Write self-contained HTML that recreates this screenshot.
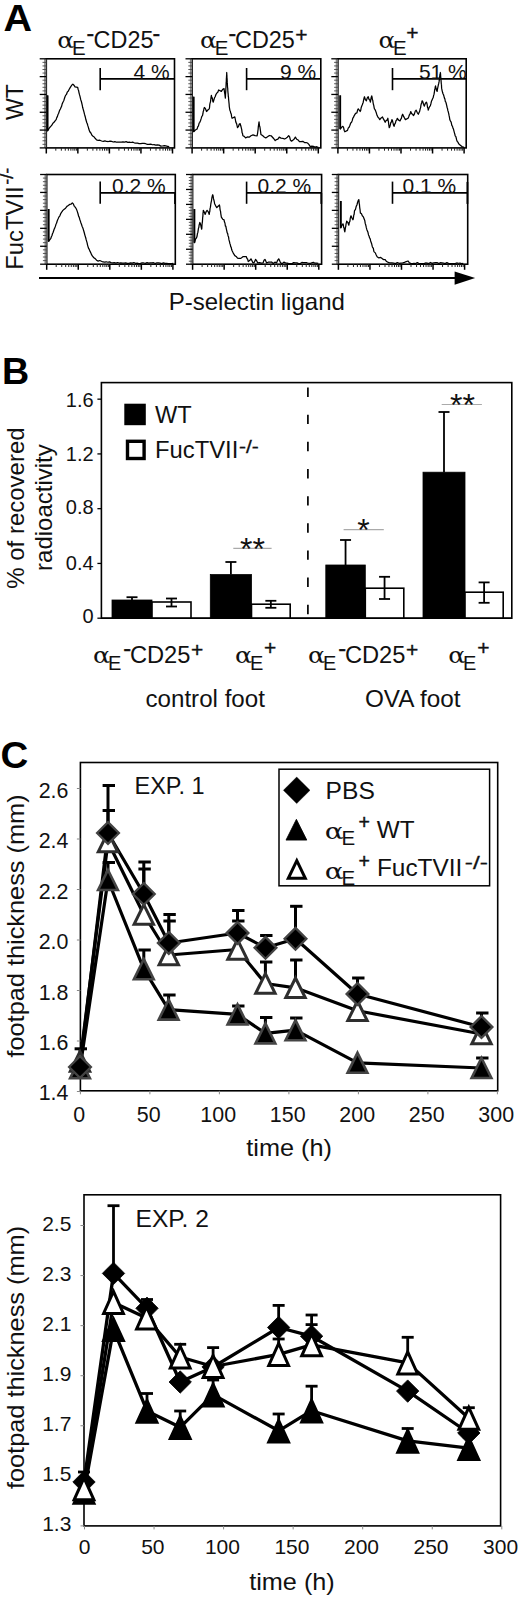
<!DOCTYPE html>
<html lang="en">
<head>
<meta charset="utf-8">
<title>Figure: P-selectin ligand, radioactivity recovery and footpad thickness</title>
<style>
html,body{margin:0;padding:0;background:#fff;}
body{width:520px;height:1597px;overflow:hidden;}
svg{display:block;font-family:"Liberation Sans", "DejaVu Sans", sans-serif;}
text{white-space:pre;}
</style>
</head>
<body>
<svg width="520" height="1597" viewBox="0 0 520 1597">
<rect x="0" y="0" width="520" height="1597" fill="#fff"/>
<g id="panelA">
<text x="3.4" y="30.6" font-size="36.5" text-anchor="start" font-weight="bold" fill="#000" textLength="28.6" lengthAdjust="spacingAndGlyphs">A</text>
<rect x="46.3" y="58.8" width="128.2" height="89.1" fill="none" stroke="#000" stroke-width="1.6"/>
<rect x="44.1" y="58.8" width="2.2" height="89.1" fill="#8a8a8a"/>
<line x1="39.7" y1="58.8" x2="46.3" y2="58.8" stroke="#000" stroke-width="1.3" />
<line x1="42.5" y1="62.36" x2="46.3" y2="62.36" stroke="#444" stroke-width="0.9" />
<line x1="42.5" y1="65.93" x2="46.3" y2="65.93" stroke="#444" stroke-width="0.9" />
<line x1="42.5" y1="69.49" x2="46.3" y2="69.49" stroke="#444" stroke-width="0.9" />
<line x1="42.5" y1="73.06" x2="46.3" y2="73.06" stroke="#444" stroke-width="0.9" />
<line x1="39.7" y1="76.62" x2="46.3" y2="76.62" stroke="#000" stroke-width="1.3" />
<line x1="42.5" y1="80.18" x2="46.3" y2="80.18" stroke="#444" stroke-width="0.9" />
<line x1="42.5" y1="83.75" x2="46.3" y2="83.75" stroke="#444" stroke-width="0.9" />
<line x1="42.5" y1="87.31" x2="46.3" y2="87.31" stroke="#444" stroke-width="0.9" />
<line x1="42.5" y1="90.88" x2="46.3" y2="90.88" stroke="#444" stroke-width="0.9" />
<line x1="39.7" y1="94.44" x2="46.3" y2="94.44" stroke="#000" stroke-width="1.3" />
<line x1="42.5" y1="98" x2="46.3" y2="98" stroke="#444" stroke-width="0.9" />
<line x1="42.5" y1="101.57" x2="46.3" y2="101.57" stroke="#444" stroke-width="0.9" />
<line x1="42.5" y1="105.13" x2="46.3" y2="105.13" stroke="#444" stroke-width="0.9" />
<line x1="42.5" y1="108.7" x2="46.3" y2="108.7" stroke="#444" stroke-width="0.9" />
<line x1="39.7" y1="112.26" x2="46.3" y2="112.26" stroke="#000" stroke-width="1.3" />
<line x1="42.5" y1="115.82" x2="46.3" y2="115.82" stroke="#444" stroke-width="0.9" />
<line x1="42.5" y1="119.39" x2="46.3" y2="119.39" stroke="#444" stroke-width="0.9" />
<line x1="42.5" y1="122.95" x2="46.3" y2="122.95" stroke="#444" stroke-width="0.9" />
<line x1="42.5" y1="126.52" x2="46.3" y2="126.52" stroke="#444" stroke-width="0.9" />
<line x1="39.7" y1="130.08" x2="46.3" y2="130.08" stroke="#000" stroke-width="1.3" />
<line x1="42.5" y1="133.64" x2="46.3" y2="133.64" stroke="#444" stroke-width="0.9" />
<line x1="42.5" y1="137.21" x2="46.3" y2="137.21" stroke="#444" stroke-width="0.9" />
<line x1="42.5" y1="140.77" x2="46.3" y2="140.77" stroke="#444" stroke-width="0.9" />
<line x1="42.5" y1="144.34" x2="46.3" y2="144.34" stroke="#444" stroke-width="0.9" />
<line x1="39.7" y1="147.9" x2="46.3" y2="147.9" stroke="#000" stroke-width="1.3" />
<line x1="46.3" y1="147.9" x2="46.3" y2="153.5" stroke="#000" stroke-width="1.5" />
<line x1="55.8" y1="147.9" x2="55.8" y2="150.7" stroke="#222" stroke-width="1.0" />
<line x1="61.35" y1="147.9" x2="61.35" y2="150.7" stroke="#222" stroke-width="1.0" />
<line x1="65.29" y1="147.9" x2="65.29" y2="150.7" stroke="#222" stroke-width="1.0" />
<line x1="68.35" y1="147.9" x2="68.35" y2="150.7" stroke="#222" stroke-width="1.0" />
<line x1="70.85" y1="147.9" x2="70.85" y2="150.7" stroke="#222" stroke-width="1.0" />
<line x1="72.96" y1="147.9" x2="72.96" y2="150.7" stroke="#222" stroke-width="1.0" />
<line x1="74.79" y1="147.9" x2="74.79" y2="150.7" stroke="#222" stroke-width="1.0" />
<line x1="76.41" y1="147.9" x2="76.41" y2="150.7" stroke="#222" stroke-width="1.0" />
<line x1="77.85" y1="147.9" x2="77.85" y2="153.5" stroke="#000" stroke-width="1.5" />
<line x1="87.35" y1="147.9" x2="87.35" y2="150.7" stroke="#222" stroke-width="1.0" />
<line x1="92.9" y1="147.9" x2="92.9" y2="150.7" stroke="#222" stroke-width="1.0" />
<line x1="96.84" y1="147.9" x2="96.84" y2="150.7" stroke="#222" stroke-width="1.0" />
<line x1="99.9" y1="147.9" x2="99.9" y2="150.7" stroke="#222" stroke-width="1.0" />
<line x1="102.4" y1="147.9" x2="102.4" y2="150.7" stroke="#222" stroke-width="1.0" />
<line x1="104.51" y1="147.9" x2="104.51" y2="150.7" stroke="#222" stroke-width="1.0" />
<line x1="106.34" y1="147.9" x2="106.34" y2="150.7" stroke="#222" stroke-width="1.0" />
<line x1="107.96" y1="147.9" x2="107.96" y2="150.7" stroke="#222" stroke-width="1.0" />
<line x1="109.4" y1="147.9" x2="109.4" y2="153.5" stroke="#000" stroke-width="1.5" />
<line x1="118.9" y1="147.9" x2="118.9" y2="150.7" stroke="#222" stroke-width="1.0" />
<line x1="124.45" y1="147.9" x2="124.45" y2="150.7" stroke="#222" stroke-width="1.0" />
<line x1="128.39" y1="147.9" x2="128.39" y2="150.7" stroke="#222" stroke-width="1.0" />
<line x1="131.45" y1="147.9" x2="131.45" y2="150.7" stroke="#222" stroke-width="1.0" />
<line x1="133.95" y1="147.9" x2="133.95" y2="150.7" stroke="#222" stroke-width="1.0" />
<line x1="136.06" y1="147.9" x2="136.06" y2="150.7" stroke="#222" stroke-width="1.0" />
<line x1="137.89" y1="147.9" x2="137.89" y2="150.7" stroke="#222" stroke-width="1.0" />
<line x1="139.51" y1="147.9" x2="139.51" y2="150.7" stroke="#222" stroke-width="1.0" />
<line x1="140.95" y1="147.9" x2="140.95" y2="153.5" stroke="#000" stroke-width="1.5" />
<line x1="150.45" y1="147.9" x2="150.45" y2="150.7" stroke="#222" stroke-width="1.0" />
<line x1="156" y1="147.9" x2="156" y2="150.7" stroke="#222" stroke-width="1.0" />
<line x1="159.94" y1="147.9" x2="159.94" y2="150.7" stroke="#222" stroke-width="1.0" />
<line x1="163" y1="147.9" x2="163" y2="150.7" stroke="#222" stroke-width="1.0" />
<line x1="165.5" y1="147.9" x2="165.5" y2="150.7" stroke="#222" stroke-width="1.0" />
<line x1="167.61" y1="147.9" x2="167.61" y2="150.7" stroke="#222" stroke-width="1.0" />
<line x1="169.44" y1="147.9" x2="169.44" y2="150.7" stroke="#222" stroke-width="1.0" />
<line x1="171.06" y1="147.9" x2="171.06" y2="150.7" stroke="#222" stroke-width="1.0" />
<line x1="172.5" y1="147.9" x2="172.5" y2="153.5" stroke="#000" stroke-width="1.5" />
<polyline points="47.54,95.38 47.54,130.92 48.62,129.2 49.69,127.49 50.77,126.35 51.85,125.17 52.92,123.18 54,122.35 55.08,120.81 56.15,119.62 56.76,117.61 57.37,116.59 57.97,114.56 58.58,113.48 59.18,111.57 59.79,110.08 60.39,108.93 61,107.5 61.57,106.35 62.14,104.06 62.72,102.65 63.29,101.58 63.86,100.42 64.43,98.5 65,96.79 65.58,95.38 66.45,94.43 67.33,91.92 68.2,91.34 69.08,89.46 70.02,87.88 70.96,86.38 71.9,85 72.85,84.08 73.92,85.21 75,86.77 77.69,87.31 78.14,89.45 78.59,90.55 79.04,92.78 79.49,94.64 79.94,96.14 80.38,98.08 80.83,99.92 81.28,101.19 81.73,102.98 82.18,104.93 82.63,107.25 83.08,108.85 83.54,110.5 84,112.1 84.46,114.13 84.92,115.72 85.38,117.28 85.85,119.55 86.31,120.96 86.81,122.72 87.31,123.76 87.81,125.66 88.31,127.14 88.81,129.07 89.31,130.44 89.81,131.73 90.88,133.02 91.96,135.31 93.04,136.31 94.21,137.05 95.37,138.55 96.54,139.81 98.22,140.49 99.9,140.23 101.59,141.01 103.27,141.42 104.95,140.85 106.63,141.47 108.32,141.51 110,141.15 111.62,141.45 113.23,142 114.85,141.6 116.46,142.23 118.08,142.23 119.69,142.23 121.31,142.1 122.92,141.86 124.54,142.17 126.15,141.69 127.77,142.4 129.38,142.09 131,142.52 132.62,142.07 134.23,142.77 135.85,143.1 137.46,143.15 139.08,143.63 140.69,143.55 142.31,143.31 143.99,143.34 145.67,143.72 147.36,144.3 149.04,144.38 150.72,144.06 152.4,144.75 154.09,144.63 155.77,145.19 157.45,144.97 159.13,145.11 160.82,146.09 162.5,146 164.18,145.73 165.87,145.99 167.55,146.28 169.23,146.54" fill="none" stroke="#000" stroke-width="1.25" stroke-linejoin="round" />
<line x1="47.54" y1="95.38" x2="47.54" y2="130.92" stroke="#000" stroke-width="1.8" />
<line x1="100.2" y1="68" x2="100.2" y2="90.2" stroke="#000" stroke-width="1.6" />
<line x1="100.2" y1="78.9" x2="174.5" y2="78.9" stroke="#000" stroke-width="1.6" />
<text x="169.8" y="79.2" font-size="21" text-anchor="end" font-weight="normal" fill="#111" >4 %</text>
<rect x="192.1" y="58.8" width="128.7" height="89.1" fill="none" stroke="#000" stroke-width="1.6"/>
<rect x="189.9" y="58.8" width="2.2" height="89.1" fill="#8a8a8a"/>
<line x1="185.5" y1="58.8" x2="192.1" y2="58.8" stroke="#000" stroke-width="1.3" />
<line x1="188.3" y1="62.36" x2="192.1" y2="62.36" stroke="#444" stroke-width="0.9" />
<line x1="188.3" y1="65.93" x2="192.1" y2="65.93" stroke="#444" stroke-width="0.9" />
<line x1="188.3" y1="69.49" x2="192.1" y2="69.49" stroke="#444" stroke-width="0.9" />
<line x1="188.3" y1="73.06" x2="192.1" y2="73.06" stroke="#444" stroke-width="0.9" />
<line x1="185.5" y1="76.62" x2="192.1" y2="76.62" stroke="#000" stroke-width="1.3" />
<line x1="188.3" y1="80.18" x2="192.1" y2="80.18" stroke="#444" stroke-width="0.9" />
<line x1="188.3" y1="83.75" x2="192.1" y2="83.75" stroke="#444" stroke-width="0.9" />
<line x1="188.3" y1="87.31" x2="192.1" y2="87.31" stroke="#444" stroke-width="0.9" />
<line x1="188.3" y1="90.88" x2="192.1" y2="90.88" stroke="#444" stroke-width="0.9" />
<line x1="185.5" y1="94.44" x2="192.1" y2="94.44" stroke="#000" stroke-width="1.3" />
<line x1="188.3" y1="98" x2="192.1" y2="98" stroke="#444" stroke-width="0.9" />
<line x1="188.3" y1="101.57" x2="192.1" y2="101.57" stroke="#444" stroke-width="0.9" />
<line x1="188.3" y1="105.13" x2="192.1" y2="105.13" stroke="#444" stroke-width="0.9" />
<line x1="188.3" y1="108.7" x2="192.1" y2="108.7" stroke="#444" stroke-width="0.9" />
<line x1="185.5" y1="112.26" x2="192.1" y2="112.26" stroke="#000" stroke-width="1.3" />
<line x1="188.3" y1="115.82" x2="192.1" y2="115.82" stroke="#444" stroke-width="0.9" />
<line x1="188.3" y1="119.39" x2="192.1" y2="119.39" stroke="#444" stroke-width="0.9" />
<line x1="188.3" y1="122.95" x2="192.1" y2="122.95" stroke="#444" stroke-width="0.9" />
<line x1="188.3" y1="126.52" x2="192.1" y2="126.52" stroke="#444" stroke-width="0.9" />
<line x1="185.5" y1="130.08" x2="192.1" y2="130.08" stroke="#000" stroke-width="1.3" />
<line x1="188.3" y1="133.64" x2="192.1" y2="133.64" stroke="#444" stroke-width="0.9" />
<line x1="188.3" y1="137.21" x2="192.1" y2="137.21" stroke="#444" stroke-width="0.9" />
<line x1="188.3" y1="140.77" x2="192.1" y2="140.77" stroke="#444" stroke-width="0.9" />
<line x1="188.3" y1="144.34" x2="192.1" y2="144.34" stroke="#444" stroke-width="0.9" />
<line x1="185.5" y1="147.9" x2="192.1" y2="147.9" stroke="#000" stroke-width="1.3" />
<line x1="192.1" y1="147.9" x2="192.1" y2="153.5" stroke="#000" stroke-width="1.5" />
<line x1="201.6" y1="147.9" x2="201.6" y2="150.7" stroke="#222" stroke-width="1.0" />
<line x1="207.15" y1="147.9" x2="207.15" y2="150.7" stroke="#222" stroke-width="1.0" />
<line x1="211.09" y1="147.9" x2="211.09" y2="150.7" stroke="#222" stroke-width="1.0" />
<line x1="214.15" y1="147.9" x2="214.15" y2="150.7" stroke="#222" stroke-width="1.0" />
<line x1="216.65" y1="147.9" x2="216.65" y2="150.7" stroke="#222" stroke-width="1.0" />
<line x1="218.76" y1="147.9" x2="218.76" y2="150.7" stroke="#222" stroke-width="1.0" />
<line x1="220.59" y1="147.9" x2="220.59" y2="150.7" stroke="#222" stroke-width="1.0" />
<line x1="222.21" y1="147.9" x2="222.21" y2="150.7" stroke="#222" stroke-width="1.0" />
<line x1="223.65" y1="147.9" x2="223.65" y2="153.5" stroke="#000" stroke-width="1.5" />
<line x1="233.15" y1="147.9" x2="233.15" y2="150.7" stroke="#222" stroke-width="1.0" />
<line x1="238.7" y1="147.9" x2="238.7" y2="150.7" stroke="#222" stroke-width="1.0" />
<line x1="242.64" y1="147.9" x2="242.64" y2="150.7" stroke="#222" stroke-width="1.0" />
<line x1="245.7" y1="147.9" x2="245.7" y2="150.7" stroke="#222" stroke-width="1.0" />
<line x1="248.2" y1="147.9" x2="248.2" y2="150.7" stroke="#222" stroke-width="1.0" />
<line x1="250.31" y1="147.9" x2="250.31" y2="150.7" stroke="#222" stroke-width="1.0" />
<line x1="252.14" y1="147.9" x2="252.14" y2="150.7" stroke="#222" stroke-width="1.0" />
<line x1="253.76" y1="147.9" x2="253.76" y2="150.7" stroke="#222" stroke-width="1.0" />
<line x1="255.2" y1="147.9" x2="255.2" y2="153.5" stroke="#000" stroke-width="1.5" />
<line x1="264.7" y1="147.9" x2="264.7" y2="150.7" stroke="#222" stroke-width="1.0" />
<line x1="270.25" y1="147.9" x2="270.25" y2="150.7" stroke="#222" stroke-width="1.0" />
<line x1="274.19" y1="147.9" x2="274.19" y2="150.7" stroke="#222" stroke-width="1.0" />
<line x1="277.25" y1="147.9" x2="277.25" y2="150.7" stroke="#222" stroke-width="1.0" />
<line x1="279.75" y1="147.9" x2="279.75" y2="150.7" stroke="#222" stroke-width="1.0" />
<line x1="281.86" y1="147.9" x2="281.86" y2="150.7" stroke="#222" stroke-width="1.0" />
<line x1="283.69" y1="147.9" x2="283.69" y2="150.7" stroke="#222" stroke-width="1.0" />
<line x1="285.31" y1="147.9" x2="285.31" y2="150.7" stroke="#222" stroke-width="1.0" />
<line x1="286.75" y1="147.9" x2="286.75" y2="153.5" stroke="#000" stroke-width="1.5" />
<line x1="296.25" y1="147.9" x2="296.25" y2="150.7" stroke="#222" stroke-width="1.0" />
<line x1="301.8" y1="147.9" x2="301.8" y2="150.7" stroke="#222" stroke-width="1.0" />
<line x1="305.74" y1="147.9" x2="305.74" y2="150.7" stroke="#222" stroke-width="1.0" />
<line x1="308.8" y1="147.9" x2="308.8" y2="150.7" stroke="#222" stroke-width="1.0" />
<line x1="311.3" y1="147.9" x2="311.3" y2="150.7" stroke="#222" stroke-width="1.0" />
<line x1="313.41" y1="147.9" x2="313.41" y2="150.7" stroke="#222" stroke-width="1.0" />
<line x1="315.24" y1="147.9" x2="315.24" y2="150.7" stroke="#222" stroke-width="1.0" />
<line x1="316.86" y1="147.9" x2="316.86" y2="150.7" stroke="#222" stroke-width="1.0" />
<line x1="318.3" y1="147.9" x2="318.3" y2="153.5" stroke="#000" stroke-width="1.5" />
<polyline points="193.62,96.73 193.62,131.73 195.37,130.03 197.12,129.04 197.79,126.66 198.46,125.97 199.13,123.14 199.81,122.31 200.48,120.7 201.15,118.67 201.83,116.38 202.5,115.58 202.88,113.98 203.25,111.42 203.63,110.6 204.01,108.26 204.38,107.5 205.46,108.7 206.54,111.54 207.88,110.04 209.23,108.85 209.5,107.82 209.77,104.73 210.04,103.24 210.31,102.37 210.58,101.33 210.85,98.9 211.12,96.86 211.38,95.38 211.86,98.02 212.33,97.84 212.8,101.15 213.27,102.12 213.9,99.9 214.53,97.81 215.15,96.73 216.03,94.28 216.9,92.98 217.78,92.31 218.65,90 221.35,91.35 222.69,89.36 224.04,88.65 224.31,90.7 224.58,92.7 224.85,94.05 225.12,96.29 225.38,98.08 225.47,95.6 225.55,94 225.64,92.69 225.72,92.04 225.81,89.94 225.89,88.11 225.97,87.06 226.06,85.19 226.14,83.29 226.23,82.68 226.31,80.89 226.39,78.38 226.48,77.44 226.56,75.75 226.65,74.85 226.73,72.5 226.82,74.6 226.91,75.37 227,78.4 227.09,78.32 227.18,80.56 227.27,82.89 227.36,83.32 227.45,85.64 227.54,87.31 227.7,88.07 227.85,91.01 228.01,92.88 228.17,94.18 228.32,96.47 228.48,97.03 228.64,99.48 228.79,100.96 228.95,102.61 229.11,104.05 229.27,106.5 229.42,107.5 229.87,110.18 230.32,111.04 230.77,113.21 231.22,113.8 231.67,116.88 232.12,118.27 234.81,116.92 235.26,119.01 235.71,121.5 236.15,122.95 236.6,123.67 237.05,125.67 237.5,127.69 238.4,126.68 239.29,124.05 240.19,123.65 240.58,125.31 240.96,126.45 241.35,128.08 241.73,129.69 242.12,132.84 242.5,133.3 242.88,135.77 244.23,136.34 245.58,137.92 247.37,136.99 249.17,137.23 250.96,135.77 253.03,134.93 255.09,135.67 257.15,135.77 257.39,134.12 257.62,133.04 257.86,131.16 258.1,129.5 258.33,126.58 258.57,125.1 258.8,123.24 259.04,121.77 259.31,124.35 259.58,126.3 259.85,126.49 260.12,128.35 260.38,130.27 260.65,132.08 260.92,134.42 262.54,135.56 264.15,136.93 265.77,137.92 267.56,136.73 269.36,135.5 271.15,135.77 272.5,137.22 273.85,138.74 275.19,140.62 276.54,139.58 277.88,139.19 279.23,137.12 281.03,138.12 282.82,138.4 284.62,139 285.96,138.16 287.31,137.2 288.65,135.77 289.55,136.67 290.45,140.16 291.35,141.15 292.69,140.37 294.04,139.21 295.38,137.12 296.73,139.24 298.08,139.95 299.42,141.69 301.11,141.69 302.79,141.3 304.47,142.57 306.15,142.5 307.5,142.97 308.85,144.33 310.19,146.54 311.81,146.23 313.42,146.4 315.04,147.03 316.65,146.72 318.27,147.3" fill="none" stroke="#000" stroke-width="1.25" stroke-linejoin="round" />
<line x1="193.62" y1="96.73" x2="193.62" y2="131.73" stroke="#000" stroke-width="1.8" />
<line x1="246.6" y1="68" x2="246.6" y2="90.2" stroke="#000" stroke-width="1.6" />
<line x1="246.6" y1="78.9" x2="320.8" y2="78.9" stroke="#000" stroke-width="1.6" />
<text x="316.3" y="79.2" font-size="21" text-anchor="end" font-weight="normal" fill="#111" >9 %</text>
<rect x="337.9" y="58.8" width="128.3" height="89.1" fill="none" stroke="#000" stroke-width="1.6"/>
<rect x="335.7" y="58.8" width="2.2" height="89.1" fill="#8a8a8a"/>
<line x1="331.3" y1="58.8" x2="337.9" y2="58.8" stroke="#000" stroke-width="1.3" />
<line x1="334.1" y1="62.36" x2="337.9" y2="62.36" stroke="#444" stroke-width="0.9" />
<line x1="334.1" y1="65.93" x2="337.9" y2="65.93" stroke="#444" stroke-width="0.9" />
<line x1="334.1" y1="69.49" x2="337.9" y2="69.49" stroke="#444" stroke-width="0.9" />
<line x1="334.1" y1="73.06" x2="337.9" y2="73.06" stroke="#444" stroke-width="0.9" />
<line x1="331.3" y1="76.62" x2="337.9" y2="76.62" stroke="#000" stroke-width="1.3" />
<line x1="334.1" y1="80.18" x2="337.9" y2="80.18" stroke="#444" stroke-width="0.9" />
<line x1="334.1" y1="83.75" x2="337.9" y2="83.75" stroke="#444" stroke-width="0.9" />
<line x1="334.1" y1="87.31" x2="337.9" y2="87.31" stroke="#444" stroke-width="0.9" />
<line x1="334.1" y1="90.88" x2="337.9" y2="90.88" stroke="#444" stroke-width="0.9" />
<line x1="331.3" y1="94.44" x2="337.9" y2="94.44" stroke="#000" stroke-width="1.3" />
<line x1="334.1" y1="98" x2="337.9" y2="98" stroke="#444" stroke-width="0.9" />
<line x1="334.1" y1="101.57" x2="337.9" y2="101.57" stroke="#444" stroke-width="0.9" />
<line x1="334.1" y1="105.13" x2="337.9" y2="105.13" stroke="#444" stroke-width="0.9" />
<line x1="334.1" y1="108.7" x2="337.9" y2="108.7" stroke="#444" stroke-width="0.9" />
<line x1="331.3" y1="112.26" x2="337.9" y2="112.26" stroke="#000" stroke-width="1.3" />
<line x1="334.1" y1="115.82" x2="337.9" y2="115.82" stroke="#444" stroke-width="0.9" />
<line x1="334.1" y1="119.39" x2="337.9" y2="119.39" stroke="#444" stroke-width="0.9" />
<line x1="334.1" y1="122.95" x2="337.9" y2="122.95" stroke="#444" stroke-width="0.9" />
<line x1="334.1" y1="126.52" x2="337.9" y2="126.52" stroke="#444" stroke-width="0.9" />
<line x1="331.3" y1="130.08" x2="337.9" y2="130.08" stroke="#000" stroke-width="1.3" />
<line x1="334.1" y1="133.64" x2="337.9" y2="133.64" stroke="#444" stroke-width="0.9" />
<line x1="334.1" y1="137.21" x2="337.9" y2="137.21" stroke="#444" stroke-width="0.9" />
<line x1="334.1" y1="140.77" x2="337.9" y2="140.77" stroke="#444" stroke-width="0.9" />
<line x1="334.1" y1="144.34" x2="337.9" y2="144.34" stroke="#444" stroke-width="0.9" />
<line x1="331.3" y1="147.9" x2="337.9" y2="147.9" stroke="#000" stroke-width="1.3" />
<line x1="337.9" y1="147.9" x2="337.9" y2="153.5" stroke="#000" stroke-width="1.5" />
<line x1="347.4" y1="147.9" x2="347.4" y2="150.7" stroke="#222" stroke-width="1.0" />
<line x1="352.95" y1="147.9" x2="352.95" y2="150.7" stroke="#222" stroke-width="1.0" />
<line x1="356.89" y1="147.9" x2="356.89" y2="150.7" stroke="#222" stroke-width="1.0" />
<line x1="359.95" y1="147.9" x2="359.95" y2="150.7" stroke="#222" stroke-width="1.0" />
<line x1="362.45" y1="147.9" x2="362.45" y2="150.7" stroke="#222" stroke-width="1.0" />
<line x1="364.56" y1="147.9" x2="364.56" y2="150.7" stroke="#222" stroke-width="1.0" />
<line x1="366.39" y1="147.9" x2="366.39" y2="150.7" stroke="#222" stroke-width="1.0" />
<line x1="368.01" y1="147.9" x2="368.01" y2="150.7" stroke="#222" stroke-width="1.0" />
<line x1="369.45" y1="147.9" x2="369.45" y2="153.5" stroke="#000" stroke-width="1.5" />
<line x1="378.95" y1="147.9" x2="378.95" y2="150.7" stroke="#222" stroke-width="1.0" />
<line x1="384.5" y1="147.9" x2="384.5" y2="150.7" stroke="#222" stroke-width="1.0" />
<line x1="388.44" y1="147.9" x2="388.44" y2="150.7" stroke="#222" stroke-width="1.0" />
<line x1="391.5" y1="147.9" x2="391.5" y2="150.7" stroke="#222" stroke-width="1.0" />
<line x1="394" y1="147.9" x2="394" y2="150.7" stroke="#222" stroke-width="1.0" />
<line x1="396.11" y1="147.9" x2="396.11" y2="150.7" stroke="#222" stroke-width="1.0" />
<line x1="397.94" y1="147.9" x2="397.94" y2="150.7" stroke="#222" stroke-width="1.0" />
<line x1="399.56" y1="147.9" x2="399.56" y2="150.7" stroke="#222" stroke-width="1.0" />
<line x1="401" y1="147.9" x2="401" y2="153.5" stroke="#000" stroke-width="1.5" />
<line x1="410.5" y1="147.9" x2="410.5" y2="150.7" stroke="#222" stroke-width="1.0" />
<line x1="416.05" y1="147.9" x2="416.05" y2="150.7" stroke="#222" stroke-width="1.0" />
<line x1="419.99" y1="147.9" x2="419.99" y2="150.7" stroke="#222" stroke-width="1.0" />
<line x1="423.05" y1="147.9" x2="423.05" y2="150.7" stroke="#222" stroke-width="1.0" />
<line x1="425.55" y1="147.9" x2="425.55" y2="150.7" stroke="#222" stroke-width="1.0" />
<line x1="427.66" y1="147.9" x2="427.66" y2="150.7" stroke="#222" stroke-width="1.0" />
<line x1="429.49" y1="147.9" x2="429.49" y2="150.7" stroke="#222" stroke-width="1.0" />
<line x1="431.11" y1="147.9" x2="431.11" y2="150.7" stroke="#222" stroke-width="1.0" />
<line x1="432.55" y1="147.9" x2="432.55" y2="153.5" stroke="#000" stroke-width="1.5" />
<line x1="442.05" y1="147.9" x2="442.05" y2="150.7" stroke="#222" stroke-width="1.0" />
<line x1="447.6" y1="147.9" x2="447.6" y2="150.7" stroke="#222" stroke-width="1.0" />
<line x1="451.54" y1="147.9" x2="451.54" y2="150.7" stroke="#222" stroke-width="1.0" />
<line x1="454.6" y1="147.9" x2="454.6" y2="150.7" stroke="#222" stroke-width="1.0" />
<line x1="457.1" y1="147.9" x2="457.1" y2="150.7" stroke="#222" stroke-width="1.0" />
<line x1="459.21" y1="147.9" x2="459.21" y2="150.7" stroke="#222" stroke-width="1.0" />
<line x1="461.04" y1="147.9" x2="461.04" y2="150.7" stroke="#222" stroke-width="1.0" />
<line x1="462.66" y1="147.9" x2="462.66" y2="150.7" stroke="#222" stroke-width="1.0" />
<line x1="464.1" y1="147.9" x2="464.1" y2="153.5" stroke="#000" stroke-width="1.5" />
<polyline points="340.23,95.38 340.23,129.04 341.58,127.34 342.92,126.35 343.55,127.44 344.18,130.24 344.81,131.73 347.5,130.38 348.31,127.91 349.12,127.23 349.92,125.27 350.73,123.04 351.54,122.31 352.21,120.64 352.88,118.02 353.56,117.13 354.23,115.58 355.58,113.37 356.92,112.88 357.6,110.05 358.27,108.85 359.21,110.04 360.15,111.54 360.69,110.51 361.23,107.42 361.77,105.94 362.31,104.81 362.74,103.45 363.17,102.47 363.6,100.12 364.03,98.14 364.46,96.73 365.4,99.7 366.35,100.77 367.29,97.84 368.23,96.73 368.95,99.24 369.67,99.9 370.38,102.12 370.83,99.34 371.28,97.22 371.73,95.92 372.07,97.16 372.4,99.79 372.74,100.13 373.08,102.55 373.41,104.28 373.75,105.36 374.09,107.33 374.42,108.85 375.1,109.65 375.77,111.33 376.44,113.31 377.12,115.58 378.01,117.28 378.91,118.12 379.81,119.62 381.15,117.9 382.5,116.92 383.4,118.89 384.29,120.42 385.19,122.31 386.09,120.56 386.99,120.2 387.88,118.27 388.15,120.55 388.42,121.53 388.69,124.07 388.96,125.86 389.23,127.69 389.77,126.83 390.31,124.92 390.85,122.42 391.38,122.19 391.92,119.62 392.46,120.53 393,122.82 393.54,125.18 394.08,126.35 394.72,124.03 395.37,123.09 396.02,120.58 396.66,120.22 397.31,118.27 398.65,120.14 400,120.96 400.67,119.42 401.35,118.35 402.02,115.54 402.69,114.23 403.59,116.42 404.49,118.01 405.38,119.62 408.08,118.27 408.75,116.75 409.42,114.82 410.1,113.9 410.77,111.54 411.67,113.77 412.56,114.18 413.46,115.58 414.36,114.11 415.26,111.11 416.15,110.19 417.23,112.61 418.31,114.23 418.94,112.73 419.56,111.63 420.19,108.85 420.57,107.87 420.95,105.18 421.32,103.77 421.7,102.72 422.08,100.77 422.79,101.61 423.51,104.28 424.23,106.15 425.31,103.47 426.38,102.12 426.76,102.96 427.14,104.46 427.52,107.5 427.89,107.84 428.27,110.19 428.94,108 429.62,106.61 430.29,105.89 430.96,103.46 431.5,101.01 432.04,100.13 432.58,98.71 433.12,97.77 433.65,95.38 433.97,94.45 434.28,92.97 434.6,90.23 434.91,88.93 435.22,87.25 435.54,85.96 436.08,88.52 436.62,90.47 437.15,91.35 437.47,89.08 437.78,87.56 438.1,86.1 438.41,84.53 438.72,83.46 439.04,81.92 439.31,80.22 439.58,77.68 439.85,75.28 440.12,74.22 440.38,72.5 440.52,73.85 440.65,75.86 440.79,78.25 440.92,79.34 441.06,80.61 441.19,82.43 441.33,84.16 441.46,84.53 441.6,87.84 441.73,88.65 442.18,90.78 442.63,92.54 443.08,93.96 443.53,94.72 443.97,96.3 444.42,98.08 444.87,98.85 445.32,101.49 445.77,101.91 446.22,103.49 446.67,105.35 447.12,107.5 447.5,108.56 447.88,110.64 448.27,111.8 448.65,113.42 449.04,115.46 449.42,117.09 449.81,119.62 450.48,121.03 451.15,122.03 451.83,125.41 452.5,126.35 452.95,128.14 453.4,128.78 453.85,130.56 454.29,132.32 454.74,133.93 455.19,135.77 455.89,136.63 456.59,139.7 457.29,141.6 457.99,142.16 458.69,143.85 460.31,145.16 461.92,146.54 464.08,147.3" fill="none" stroke="#000" stroke-width="1.25" stroke-linejoin="round" />
<line x1="340.23" y1="95.38" x2="340.23" y2="129.04" stroke="#000" stroke-width="1.8" />
<line x1="392.5" y1="68" x2="392.5" y2="90.2" stroke="#000" stroke-width="1.6" />
<line x1="392.5" y1="78.9" x2="466.2" y2="78.9" stroke="#000" stroke-width="1.6" />
<text x="466.8" y="79.2" font-size="21" text-anchor="end" font-weight="normal" fill="#111" >51 %</text>
<rect x="46.7" y="174.5" width="128.6" height="89.7" fill="none" stroke="#000" stroke-width="1.6"/>
<rect x="44.5" y="174.5" width="2.2" height="89.7" fill="#8a8a8a"/>
<line x1="40.1" y1="174.5" x2="46.7" y2="174.5" stroke="#000" stroke-width="1.3" />
<line x1="42.9" y1="178.09" x2="46.7" y2="178.09" stroke="#444" stroke-width="0.9" />
<line x1="42.9" y1="181.68" x2="46.7" y2="181.68" stroke="#444" stroke-width="0.9" />
<line x1="42.9" y1="185.26" x2="46.7" y2="185.26" stroke="#444" stroke-width="0.9" />
<line x1="42.9" y1="188.85" x2="46.7" y2="188.85" stroke="#444" stroke-width="0.9" />
<line x1="40.1" y1="192.44" x2="46.7" y2="192.44" stroke="#000" stroke-width="1.3" />
<line x1="42.9" y1="196.03" x2="46.7" y2="196.03" stroke="#444" stroke-width="0.9" />
<line x1="42.9" y1="199.62" x2="46.7" y2="199.62" stroke="#444" stroke-width="0.9" />
<line x1="42.9" y1="203.2" x2="46.7" y2="203.2" stroke="#444" stroke-width="0.9" />
<line x1="42.9" y1="206.79" x2="46.7" y2="206.79" stroke="#444" stroke-width="0.9" />
<line x1="40.1" y1="210.38" x2="46.7" y2="210.38" stroke="#000" stroke-width="1.3" />
<line x1="42.9" y1="213.97" x2="46.7" y2="213.97" stroke="#444" stroke-width="0.9" />
<line x1="42.9" y1="217.56" x2="46.7" y2="217.56" stroke="#444" stroke-width="0.9" />
<line x1="42.9" y1="221.14" x2="46.7" y2="221.14" stroke="#444" stroke-width="0.9" />
<line x1="42.9" y1="224.73" x2="46.7" y2="224.73" stroke="#444" stroke-width="0.9" />
<line x1="40.1" y1="228.32" x2="46.7" y2="228.32" stroke="#000" stroke-width="1.3" />
<line x1="42.9" y1="231.91" x2="46.7" y2="231.91" stroke="#444" stroke-width="0.9" />
<line x1="42.9" y1="235.5" x2="46.7" y2="235.5" stroke="#444" stroke-width="0.9" />
<line x1="42.9" y1="239.08" x2="46.7" y2="239.08" stroke="#444" stroke-width="0.9" />
<line x1="42.9" y1="242.67" x2="46.7" y2="242.67" stroke="#444" stroke-width="0.9" />
<line x1="40.1" y1="246.26" x2="46.7" y2="246.26" stroke="#000" stroke-width="1.3" />
<line x1="42.9" y1="249.85" x2="46.7" y2="249.85" stroke="#444" stroke-width="0.9" />
<line x1="42.9" y1="253.44" x2="46.7" y2="253.44" stroke="#444" stroke-width="0.9" />
<line x1="42.9" y1="257.02" x2="46.7" y2="257.02" stroke="#444" stroke-width="0.9" />
<line x1="42.9" y1="260.61" x2="46.7" y2="260.61" stroke="#444" stroke-width="0.9" />
<line x1="40.1" y1="264.2" x2="46.7" y2="264.2" stroke="#000" stroke-width="1.3" />
<line x1="46.7" y1="264.2" x2="46.7" y2="269.8" stroke="#000" stroke-width="1.5" />
<line x1="56.2" y1="264.2" x2="56.2" y2="267" stroke="#222" stroke-width="1.0" />
<line x1="61.75" y1="264.2" x2="61.75" y2="267" stroke="#222" stroke-width="1.0" />
<line x1="65.69" y1="264.2" x2="65.69" y2="267" stroke="#222" stroke-width="1.0" />
<line x1="68.75" y1="264.2" x2="68.75" y2="267" stroke="#222" stroke-width="1.0" />
<line x1="71.25" y1="264.2" x2="71.25" y2="267" stroke="#222" stroke-width="1.0" />
<line x1="73.36" y1="264.2" x2="73.36" y2="267" stroke="#222" stroke-width="1.0" />
<line x1="75.19" y1="264.2" x2="75.19" y2="267" stroke="#222" stroke-width="1.0" />
<line x1="76.81" y1="264.2" x2="76.81" y2="267" stroke="#222" stroke-width="1.0" />
<line x1="78.25" y1="264.2" x2="78.25" y2="269.8" stroke="#000" stroke-width="1.5" />
<line x1="87.75" y1="264.2" x2="87.75" y2="267" stroke="#222" stroke-width="1.0" />
<line x1="93.3" y1="264.2" x2="93.3" y2="267" stroke="#222" stroke-width="1.0" />
<line x1="97.24" y1="264.2" x2="97.24" y2="267" stroke="#222" stroke-width="1.0" />
<line x1="100.3" y1="264.2" x2="100.3" y2="267" stroke="#222" stroke-width="1.0" />
<line x1="102.8" y1="264.2" x2="102.8" y2="267" stroke="#222" stroke-width="1.0" />
<line x1="104.91" y1="264.2" x2="104.91" y2="267" stroke="#222" stroke-width="1.0" />
<line x1="106.74" y1="264.2" x2="106.74" y2="267" stroke="#222" stroke-width="1.0" />
<line x1="108.36" y1="264.2" x2="108.36" y2="267" stroke="#222" stroke-width="1.0" />
<line x1="109.8" y1="264.2" x2="109.8" y2="269.8" stroke="#000" stroke-width="1.5" />
<line x1="119.3" y1="264.2" x2="119.3" y2="267" stroke="#222" stroke-width="1.0" />
<line x1="124.85" y1="264.2" x2="124.85" y2="267" stroke="#222" stroke-width="1.0" />
<line x1="128.79" y1="264.2" x2="128.79" y2="267" stroke="#222" stroke-width="1.0" />
<line x1="131.85" y1="264.2" x2="131.85" y2="267" stroke="#222" stroke-width="1.0" />
<line x1="134.35" y1="264.2" x2="134.35" y2="267" stroke="#222" stroke-width="1.0" />
<line x1="136.46" y1="264.2" x2="136.46" y2="267" stroke="#222" stroke-width="1.0" />
<line x1="138.29" y1="264.2" x2="138.29" y2="267" stroke="#222" stroke-width="1.0" />
<line x1="139.91" y1="264.2" x2="139.91" y2="267" stroke="#222" stroke-width="1.0" />
<line x1="141.35" y1="264.2" x2="141.35" y2="269.8" stroke="#000" stroke-width="1.5" />
<line x1="150.85" y1="264.2" x2="150.85" y2="267" stroke="#222" stroke-width="1.0" />
<line x1="156.4" y1="264.2" x2="156.4" y2="267" stroke="#222" stroke-width="1.0" />
<line x1="160.34" y1="264.2" x2="160.34" y2="267" stroke="#222" stroke-width="1.0" />
<line x1="163.4" y1="264.2" x2="163.4" y2="267" stroke="#222" stroke-width="1.0" />
<line x1="165.9" y1="264.2" x2="165.9" y2="267" stroke="#222" stroke-width="1.0" />
<line x1="168.01" y1="264.2" x2="168.01" y2="267" stroke="#222" stroke-width="1.0" />
<line x1="169.84" y1="264.2" x2="169.84" y2="267" stroke="#222" stroke-width="1.0" />
<line x1="171.46" y1="264.2" x2="171.46" y2="267" stroke="#222" stroke-width="1.0" />
<line x1="172.9" y1="264.2" x2="172.9" y2="269.8" stroke="#000" stroke-width="1.5" />
<polyline points="48.62,209.04 48.62,241.35 49.69,239.81 50.77,238.65 51.35,236.73 51.92,235.74 52.5,233.57 53.08,232.54 53.65,230.81 54.23,228.94 54.81,227.88 55.38,226.35 55.96,224.3 56.54,223.2 57.12,221.26 57.69,219.74 58.27,218.57 58.85,217.12 59.86,215.79 60.87,213.34 61.88,211.76 62.88,210.38 64.23,209.18 65.58,208.18 66.92,206.35 68.27,205.56 69.62,204.48 70.96,204.25 72.31,202.85 73.32,203.9 74.33,206.34 75.34,207.26 76.35,209.04 76.92,210.38 77.5,212.08 78.08,214.02 78.65,216.31 79.23,217.34 79.81,219.51 80.38,221.15 80.96,223.04 81.54,224.48 82.12,226.4 82.69,227.6 83.27,229.32 83.85,231.22 84.42,233.27 84.87,235.11 85.32,236.48 85.77,238 86.22,239.94 86.67,241.44 87.12,242.92 87.56,245.11 88.01,246.65 88.46,248.08 89.27,249.41 90.08,251.39 90.88,252.95 91.69,254.95 92.5,256.15 93.85,257.75 95.19,258.61 96.54,260.19 98.15,261.1 99.77,260.53 101.38,261.23 103,261.98 104.62,262.08 106.23,261.77 107.85,262.23 109.46,261.81 111.08,262.59 112.69,262.77 114.31,262.64 115.92,263.06 117.54,262.52 119.15,263.02 120.77,262.88 122.41,263.01 124.05,263.01 125.69,262.89 127.33,263.33 128.97,263.46 130.61,262.96 132.25,263.18 133.89,262.54 135.53,263.26 137.18,263.21 138.82,263.6 140.46,263.44 142.1,262.87 143.74,262.99 145.38,263.32 147.02,262.63 148.66,263.13 150.3,262.82 151.94,262.78 153.58,262.74 155.22,263.53 156.86,262.85 158.5,262.99 160.14,263.17 161.78,263.6 163.43,262.86 165.07,263.28 166.71,263.41 168.35,263.6 169.99,263.6 171.63,263.6 173.27,263.42" fill="none" stroke="#000" stroke-width="1.25" stroke-linejoin="round" />
<line x1="48.62" y1="209.04" x2="48.62" y2="241.35" stroke="#000" stroke-width="1.8" />
<line x1="100.2" y1="181.6" x2="100.2" y2="203.8" stroke="#000" stroke-width="1.6" />
<line x1="100.2" y1="192.9" x2="175.3" y2="192.9" stroke="#000" stroke-width="1.6" />
<line x1="175" y1="192.9" x2="175" y2="203.9" stroke="#000" stroke-width="1.8" />
<text x="165.8" y="193.2" font-size="21" text-anchor="end" font-weight="normal" fill="#111" >0.2 %</text>
<rect x="192.6" y="174.5" width="129" height="89.7" fill="none" stroke="#000" stroke-width="1.6"/>
<rect x="190.4" y="174.5" width="2.2" height="89.7" fill="#8a8a8a"/>
<line x1="186" y1="174.5" x2="192.6" y2="174.5" stroke="#000" stroke-width="1.3" />
<line x1="188.8" y1="177.49" x2="192.6" y2="177.49" stroke="#444" stroke-width="0.9" />
<line x1="188.8" y1="180.48" x2="192.6" y2="180.48" stroke="#444" stroke-width="0.9" />
<line x1="188.8" y1="183.47" x2="192.6" y2="183.47" stroke="#444" stroke-width="0.9" />
<line x1="188.8" y1="186.46" x2="192.6" y2="186.46" stroke="#444" stroke-width="0.9" />
<line x1="186" y1="189.45" x2="192.6" y2="189.45" stroke="#000" stroke-width="1.3" />
<line x1="188.8" y1="192.44" x2="192.6" y2="192.44" stroke="#444" stroke-width="0.9" />
<line x1="188.8" y1="195.43" x2="192.6" y2="195.43" stroke="#444" stroke-width="0.9" />
<line x1="188.8" y1="198.42" x2="192.6" y2="198.42" stroke="#444" stroke-width="0.9" />
<line x1="188.8" y1="201.41" x2="192.6" y2="201.41" stroke="#444" stroke-width="0.9" />
<line x1="186" y1="204.4" x2="192.6" y2="204.4" stroke="#000" stroke-width="1.3" />
<line x1="188.8" y1="207.39" x2="192.6" y2="207.39" stroke="#444" stroke-width="0.9" />
<line x1="188.8" y1="210.38" x2="192.6" y2="210.38" stroke="#444" stroke-width="0.9" />
<line x1="188.8" y1="213.37" x2="192.6" y2="213.37" stroke="#444" stroke-width="0.9" />
<line x1="188.8" y1="216.36" x2="192.6" y2="216.36" stroke="#444" stroke-width="0.9" />
<line x1="186" y1="219.35" x2="192.6" y2="219.35" stroke="#000" stroke-width="1.3" />
<line x1="188.8" y1="222.34" x2="192.6" y2="222.34" stroke="#444" stroke-width="0.9" />
<line x1="188.8" y1="225.33" x2="192.6" y2="225.33" stroke="#444" stroke-width="0.9" />
<line x1="188.8" y1="228.32" x2="192.6" y2="228.32" stroke="#444" stroke-width="0.9" />
<line x1="188.8" y1="231.31" x2="192.6" y2="231.31" stroke="#444" stroke-width="0.9" />
<line x1="186" y1="234.3" x2="192.6" y2="234.3" stroke="#000" stroke-width="1.3" />
<line x1="188.8" y1="237.29" x2="192.6" y2="237.29" stroke="#444" stroke-width="0.9" />
<line x1="188.8" y1="240.28" x2="192.6" y2="240.28" stroke="#444" stroke-width="0.9" />
<line x1="188.8" y1="243.27" x2="192.6" y2="243.27" stroke="#444" stroke-width="0.9" />
<line x1="188.8" y1="246.26" x2="192.6" y2="246.26" stroke="#444" stroke-width="0.9" />
<line x1="186" y1="249.25" x2="192.6" y2="249.25" stroke="#000" stroke-width="1.3" />
<line x1="188.8" y1="252.24" x2="192.6" y2="252.24" stroke="#444" stroke-width="0.9" />
<line x1="188.8" y1="255.23" x2="192.6" y2="255.23" stroke="#444" stroke-width="0.9" />
<line x1="188.8" y1="258.22" x2="192.6" y2="258.22" stroke="#444" stroke-width="0.9" />
<line x1="188.8" y1="261.21" x2="192.6" y2="261.21" stroke="#444" stroke-width="0.9" />
<line x1="186" y1="264.2" x2="192.6" y2="264.2" stroke="#000" stroke-width="1.3" />
<line x1="192.6" y1="264.2" x2="192.6" y2="269.8" stroke="#000" stroke-width="1.5" />
<line x1="202.1" y1="264.2" x2="202.1" y2="267" stroke="#222" stroke-width="1.0" />
<line x1="207.65" y1="264.2" x2="207.65" y2="267" stroke="#222" stroke-width="1.0" />
<line x1="211.59" y1="264.2" x2="211.59" y2="267" stroke="#222" stroke-width="1.0" />
<line x1="214.65" y1="264.2" x2="214.65" y2="267" stroke="#222" stroke-width="1.0" />
<line x1="217.15" y1="264.2" x2="217.15" y2="267" stroke="#222" stroke-width="1.0" />
<line x1="219.26" y1="264.2" x2="219.26" y2="267" stroke="#222" stroke-width="1.0" />
<line x1="221.09" y1="264.2" x2="221.09" y2="267" stroke="#222" stroke-width="1.0" />
<line x1="222.71" y1="264.2" x2="222.71" y2="267" stroke="#222" stroke-width="1.0" />
<line x1="224.15" y1="264.2" x2="224.15" y2="269.8" stroke="#000" stroke-width="1.5" />
<line x1="233.65" y1="264.2" x2="233.65" y2="267" stroke="#222" stroke-width="1.0" />
<line x1="239.2" y1="264.2" x2="239.2" y2="267" stroke="#222" stroke-width="1.0" />
<line x1="243.14" y1="264.2" x2="243.14" y2="267" stroke="#222" stroke-width="1.0" />
<line x1="246.2" y1="264.2" x2="246.2" y2="267" stroke="#222" stroke-width="1.0" />
<line x1="248.7" y1="264.2" x2="248.7" y2="267" stroke="#222" stroke-width="1.0" />
<line x1="250.81" y1="264.2" x2="250.81" y2="267" stroke="#222" stroke-width="1.0" />
<line x1="252.64" y1="264.2" x2="252.64" y2="267" stroke="#222" stroke-width="1.0" />
<line x1="254.26" y1="264.2" x2="254.26" y2="267" stroke="#222" stroke-width="1.0" />
<line x1="255.7" y1="264.2" x2="255.7" y2="269.8" stroke="#000" stroke-width="1.5" />
<line x1="265.2" y1="264.2" x2="265.2" y2="267" stroke="#222" stroke-width="1.0" />
<line x1="270.75" y1="264.2" x2="270.75" y2="267" stroke="#222" stroke-width="1.0" />
<line x1="274.69" y1="264.2" x2="274.69" y2="267" stroke="#222" stroke-width="1.0" />
<line x1="277.75" y1="264.2" x2="277.75" y2="267" stroke="#222" stroke-width="1.0" />
<line x1="280.25" y1="264.2" x2="280.25" y2="267" stroke="#222" stroke-width="1.0" />
<line x1="282.36" y1="264.2" x2="282.36" y2="267" stroke="#222" stroke-width="1.0" />
<line x1="284.19" y1="264.2" x2="284.19" y2="267" stroke="#222" stroke-width="1.0" />
<line x1="285.81" y1="264.2" x2="285.81" y2="267" stroke="#222" stroke-width="1.0" />
<line x1="287.25" y1="264.2" x2="287.25" y2="269.8" stroke="#000" stroke-width="1.5" />
<line x1="296.75" y1="264.2" x2="296.75" y2="267" stroke="#222" stroke-width="1.0" />
<line x1="302.3" y1="264.2" x2="302.3" y2="267" stroke="#222" stroke-width="1.0" />
<line x1="306.24" y1="264.2" x2="306.24" y2="267" stroke="#222" stroke-width="1.0" />
<line x1="309.3" y1="264.2" x2="309.3" y2="267" stroke="#222" stroke-width="1.0" />
<line x1="311.8" y1="264.2" x2="311.8" y2="267" stroke="#222" stroke-width="1.0" />
<line x1="313.91" y1="264.2" x2="313.91" y2="267" stroke="#222" stroke-width="1.0" />
<line x1="315.74" y1="264.2" x2="315.74" y2="267" stroke="#222" stroke-width="1.0" />
<line x1="317.36" y1="264.2" x2="317.36" y2="267" stroke="#222" stroke-width="1.0" />
<line x1="318.8" y1="264.2" x2="318.8" y2="269.8" stroke="#000" stroke-width="1.5" />
<polyline points="194.42,209.04 194.42,242.69 195.1,240.66 195.77,238.63 196.44,237.95 197.12,235.96 197.45,233.42 197.79,232.67 198.12,230.64 198.46,228.35 198.8,227.56 199.13,224.94 199.47,224.05 199.81,222.5 200.28,223.32 200.75,225.05 201.22,227.4 201.69,229.23 201.84,228.17 201.99,225.05 202.13,223.54 202.28,222.63 202.43,221.56 202.57,219.11 202.72,217.03 202.87,216.48 203.01,212.9 203.16,212.81 203.31,210.38 204.25,211.98 205.19,214.42 206.13,211.69 207.08,210.38 208.15,211.64 209.23,214.42 209.5,212.31 209.77,211.59 210.04,208.59 210.31,207.66 210.58,206.05 210.85,203.78 211.12,202.31 211.52,200.52 211.92,197.66 212.33,195.77 212.73,194.77 213.11,195.96 213.48,198.68 213.86,199.96 214.24,201.51 214.62,203.65 215.69,205.84 216.77,207.69 218.12,206.25 219.46,205 219.73,206.33 220,209.05 220.27,210.59 220.54,211.41 220.81,213.8 221.08,215.44 221.35,217.12 222.69,219.21 224.04,219.81 224.49,222.06 224.94,222.97 225.38,226.15 225.83,226.22 226.28,228.62 226.73,230.58 227.18,232.89 227.63,233.47 228.08,235.94 228.53,236.83 228.97,239.89 229.42,241.35 229.87,243.45 230.32,244.63 230.77,246.81 231.22,247.26 231.67,249.59 232.12,250.77 233.01,252.57 233.91,254.16 234.81,255.62 236.15,256.43 237.5,258.09 238.85,258.31 240.87,258.39 242.88,256.69 244.63,256.64 246.38,256.69 247.01,258.64 247.64,259.04 248.27,261.54 249.62,260.6 250.96,258.85 251.86,260.49 252.76,262.52 253.65,262.88 254.6,261.78 255.54,259.38 256.62,260.7 257.69,262.88 259.49,262.66 261.28,263.22 263.08,262.88 264.02,260.18 264.96,259.38 265.77,261.06 266.58,262.88 268.24,262.22 269.9,262.12 271.56,262 273.22,263.42 274.88,262.14 276.54,262.88 277.62,260.36 278.69,258.85 279.63,260.65 280.58,262.88 282.22,263.6 283.85,262.09 285.49,262.85 287.13,263.08 288.77,263.6 290.41,263.6 292.05,263.6 293.69,262.63 295.33,262.93 296.96,262.84 298.6,263.6 300.24,263.6 301.88,262.49 303.52,262.56 305.16,262.7 306.8,262.73 308.44,263.25 310.08,263.48 311.71,262.85 313.35,262.36 314.99,263.21 316.63,263.14 318.27,263.42" fill="none" stroke="#000" stroke-width="1.25" stroke-linejoin="round" />
<line x1="194.42" y1="209.04" x2="194.42" y2="242.69" stroke="#000" stroke-width="1.8" />
<line x1="246.6" y1="181.6" x2="246.6" y2="203.8" stroke="#000" stroke-width="1.6" />
<line x1="246.6" y1="192.9" x2="321.6" y2="192.9" stroke="#000" stroke-width="1.6" />
<line x1="321.3" y1="192.9" x2="321.3" y2="203.9" stroke="#000" stroke-width="1.8" />
<text x="311.3" y="193.2" font-size="21" text-anchor="end" font-weight="normal" fill="#111" >0.2 %</text>
<rect x="338.4" y="174.5" width="129.3" height="89.7" fill="none" stroke="#000" stroke-width="1.6"/>
<rect x="336.2" y="174.5" width="2.2" height="89.7" fill="#8a8a8a"/>
<line x1="331.8" y1="174.5" x2="338.4" y2="174.5" stroke="#000" stroke-width="1.3" />
<line x1="334.6" y1="178.09" x2="338.4" y2="178.09" stroke="#444" stroke-width="0.9" />
<line x1="334.6" y1="181.68" x2="338.4" y2="181.68" stroke="#444" stroke-width="0.9" />
<line x1="334.6" y1="185.26" x2="338.4" y2="185.26" stroke="#444" stroke-width="0.9" />
<line x1="334.6" y1="188.85" x2="338.4" y2="188.85" stroke="#444" stroke-width="0.9" />
<line x1="331.8" y1="192.44" x2="338.4" y2="192.44" stroke="#000" stroke-width="1.3" />
<line x1="334.6" y1="196.03" x2="338.4" y2="196.03" stroke="#444" stroke-width="0.9" />
<line x1="334.6" y1="199.62" x2="338.4" y2="199.62" stroke="#444" stroke-width="0.9" />
<line x1="334.6" y1="203.2" x2="338.4" y2="203.2" stroke="#444" stroke-width="0.9" />
<line x1="334.6" y1="206.79" x2="338.4" y2="206.79" stroke="#444" stroke-width="0.9" />
<line x1="331.8" y1="210.38" x2="338.4" y2="210.38" stroke="#000" stroke-width="1.3" />
<line x1="334.6" y1="213.97" x2="338.4" y2="213.97" stroke="#444" stroke-width="0.9" />
<line x1="334.6" y1="217.56" x2="338.4" y2="217.56" stroke="#444" stroke-width="0.9" />
<line x1="334.6" y1="221.14" x2="338.4" y2="221.14" stroke="#444" stroke-width="0.9" />
<line x1="334.6" y1="224.73" x2="338.4" y2="224.73" stroke="#444" stroke-width="0.9" />
<line x1="331.8" y1="228.32" x2="338.4" y2="228.32" stroke="#000" stroke-width="1.3" />
<line x1="334.6" y1="231.91" x2="338.4" y2="231.91" stroke="#444" stroke-width="0.9" />
<line x1="334.6" y1="235.5" x2="338.4" y2="235.5" stroke="#444" stroke-width="0.9" />
<line x1="334.6" y1="239.08" x2="338.4" y2="239.08" stroke="#444" stroke-width="0.9" />
<line x1="334.6" y1="242.67" x2="338.4" y2="242.67" stroke="#444" stroke-width="0.9" />
<line x1="331.8" y1="246.26" x2="338.4" y2="246.26" stroke="#000" stroke-width="1.3" />
<line x1="334.6" y1="249.85" x2="338.4" y2="249.85" stroke="#444" stroke-width="0.9" />
<line x1="334.6" y1="253.44" x2="338.4" y2="253.44" stroke="#444" stroke-width="0.9" />
<line x1="334.6" y1="257.02" x2="338.4" y2="257.02" stroke="#444" stroke-width="0.9" />
<line x1="334.6" y1="260.61" x2="338.4" y2="260.61" stroke="#444" stroke-width="0.9" />
<line x1="331.8" y1="264.2" x2="338.4" y2="264.2" stroke="#000" stroke-width="1.3" />
<line x1="338.4" y1="264.2" x2="338.4" y2="269.8" stroke="#000" stroke-width="1.5" />
<line x1="347.9" y1="264.2" x2="347.9" y2="267" stroke="#222" stroke-width="1.0" />
<line x1="353.45" y1="264.2" x2="353.45" y2="267" stroke="#222" stroke-width="1.0" />
<line x1="357.39" y1="264.2" x2="357.39" y2="267" stroke="#222" stroke-width="1.0" />
<line x1="360.45" y1="264.2" x2="360.45" y2="267" stroke="#222" stroke-width="1.0" />
<line x1="362.95" y1="264.2" x2="362.95" y2="267" stroke="#222" stroke-width="1.0" />
<line x1="365.06" y1="264.2" x2="365.06" y2="267" stroke="#222" stroke-width="1.0" />
<line x1="366.89" y1="264.2" x2="366.89" y2="267" stroke="#222" stroke-width="1.0" />
<line x1="368.51" y1="264.2" x2="368.51" y2="267" stroke="#222" stroke-width="1.0" />
<line x1="369.95" y1="264.2" x2="369.95" y2="269.8" stroke="#000" stroke-width="1.5" />
<line x1="379.45" y1="264.2" x2="379.45" y2="267" stroke="#222" stroke-width="1.0" />
<line x1="385" y1="264.2" x2="385" y2="267" stroke="#222" stroke-width="1.0" />
<line x1="388.94" y1="264.2" x2="388.94" y2="267" stroke="#222" stroke-width="1.0" />
<line x1="392" y1="264.2" x2="392" y2="267" stroke="#222" stroke-width="1.0" />
<line x1="394.5" y1="264.2" x2="394.5" y2="267" stroke="#222" stroke-width="1.0" />
<line x1="396.61" y1="264.2" x2="396.61" y2="267" stroke="#222" stroke-width="1.0" />
<line x1="398.44" y1="264.2" x2="398.44" y2="267" stroke="#222" stroke-width="1.0" />
<line x1="400.06" y1="264.2" x2="400.06" y2="267" stroke="#222" stroke-width="1.0" />
<line x1="401.5" y1="264.2" x2="401.5" y2="269.8" stroke="#000" stroke-width="1.5" />
<line x1="411" y1="264.2" x2="411" y2="267" stroke="#222" stroke-width="1.0" />
<line x1="416.55" y1="264.2" x2="416.55" y2="267" stroke="#222" stroke-width="1.0" />
<line x1="420.49" y1="264.2" x2="420.49" y2="267" stroke="#222" stroke-width="1.0" />
<line x1="423.55" y1="264.2" x2="423.55" y2="267" stroke="#222" stroke-width="1.0" />
<line x1="426.05" y1="264.2" x2="426.05" y2="267" stroke="#222" stroke-width="1.0" />
<line x1="428.16" y1="264.2" x2="428.16" y2="267" stroke="#222" stroke-width="1.0" />
<line x1="429.99" y1="264.2" x2="429.99" y2="267" stroke="#222" stroke-width="1.0" />
<line x1="431.61" y1="264.2" x2="431.61" y2="267" stroke="#222" stroke-width="1.0" />
<line x1="433.05" y1="264.2" x2="433.05" y2="269.8" stroke="#000" stroke-width="1.5" />
<line x1="442.55" y1="264.2" x2="442.55" y2="267" stroke="#222" stroke-width="1.0" />
<line x1="448.1" y1="264.2" x2="448.1" y2="267" stroke="#222" stroke-width="1.0" />
<line x1="452.04" y1="264.2" x2="452.04" y2="267" stroke="#222" stroke-width="1.0" />
<line x1="455.1" y1="264.2" x2="455.1" y2="267" stroke="#222" stroke-width="1.0" />
<line x1="457.6" y1="264.2" x2="457.6" y2="267" stroke="#222" stroke-width="1.0" />
<line x1="459.71" y1="264.2" x2="459.71" y2="267" stroke="#222" stroke-width="1.0" />
<line x1="461.54" y1="264.2" x2="461.54" y2="267" stroke="#222" stroke-width="1.0" />
<line x1="463.16" y1="264.2" x2="463.16" y2="267" stroke="#222" stroke-width="1.0" />
<line x1="464.6" y1="264.2" x2="464.6" y2="269.8" stroke="#000" stroke-width="1.5" />
<polyline points="340.77,200.96 340.77,227.88 341.85,225.51 342.92,223.85 343.3,224.76 343.68,227.38 344.05,227.84 344.43,230.38 344.81,231.92 345.12,229.86 345.44,227.45 345.75,226.55 346.06,223.82 346.38,222.82 346.69,221.15 347.77,222.31 348.85,225.19 349.21,222.8 349.56,221.9 349.92,221.13 350.28,218.16 350.64,216.79 351,215.77 351.94,218.04 352.88,219.81 353.2,219.13 353.51,216.82 353.83,214.89 354.14,214.48 354.46,211.05 354.77,210.38 355.49,209.31 356.21,206.37 356.92,205 357.55,202.49 358.18,200.65 358.81,199.62 359.01,200.92 359.21,203.61 359.41,204.02 359.62,206.51 359.82,208.31 360.02,209.46 360.22,211.49 360.42,213.08 361.37,213.55 362.31,215.77 363.38,216.91 364.46,219.81 364.84,220.83 365.22,223.4 365.59,224.51 365.97,225.9 366.35,227.88 366.88,229.67 367.42,231.02 367.96,232.33 368.5,234.93 369.04,235.96 369.58,237.97 370.12,238.68 370.65,240.96 371.19,242.47 371.73,244.04 372.27,246.4 372.81,247.73 373.35,248.46 373.88,251.46 374.42,252.12 375.32,252.88 376.22,255 377.12,256.69 378.91,257.92 380.71,257.43 382.5,258.85 383.85,259.72 385.19,259.72 386.54,261.54 388.33,262.32 390.13,262.97 391.92,262.88 393.72,263.03 395.51,263.6 397.31,262.51 399.1,263.28 400.9,263.07 402.69,262.88 404.49,262.42 406.28,261.54 408.08,261 409.42,262.89 410.77,263.42 412.41,263.6 414.05,263.37 415.69,263.6 417.33,262.54 418.97,263.6 420.61,263.6 422.25,263.6 423.89,263.6 425.53,262.99 427.18,263.19 428.82,263.6 430.46,262.47 432.1,263.35 433.74,262.76 435.38,262.66 437.02,262.54 438.66,263.6 440.3,262.68 441.94,262.92 443.58,263.2 445.22,263.6 446.86,262.58 448.5,263.32 450.14,263.52 451.78,263.6 453.43,263.6 455.07,263.6 456.71,262.98 458.35,263.25 459.99,263.14 461.63,263.6 463.27,263.42" fill="none" stroke="#000" stroke-width="1.25" stroke-linejoin="round" />
<line x1="340.77" y1="200.96" x2="340.77" y2="227.88" stroke="#000" stroke-width="1.8" />
<line x1="392.5" y1="181.6" x2="392.5" y2="203.8" stroke="#000" stroke-width="1.6" />
<line x1="392.5" y1="192.9" x2="467.7" y2="192.9" stroke="#000" stroke-width="1.6" />
<line x1="467.4" y1="181.9" x2="467.4" y2="203.9" stroke="#000" stroke-width="1.8" />
<text x="456.3" y="193.2" font-size="21" text-anchor="end" font-weight="normal" fill="#111" >0.1 %</text>
<text fill="#111"><tspan x="57.3" y="47.5" font-size="22" font-family="'DejaVu Serif', 'Liberation Serif', serif" textLength="17" lengthAdjust="spacingAndGlyphs">α</tspan><tspan x="72" y="54.7" font-size="20.5" >E</tspan><tspan x="86.6" y="40.5" font-size="23" stroke="#111" stroke-width="0.4">-</tspan><tspan x="93.6" y="47.5" font-size="23.4" >CD25</tspan><tspan x="152.6" y="40.5" font-size="23" stroke="#111" stroke-width="0.4">-</tspan></text>
<text fill="#111"><tspan x="200.1" y="47.5" font-size="22" font-family="'DejaVu Serif', 'Liberation Serif', serif" textLength="17" lengthAdjust="spacingAndGlyphs">α</tspan><tspan x="214.8" y="54.7" font-size="20.5" >E</tspan><tspan x="228.4" y="40.5" font-size="23" stroke="#111" stroke-width="0.4">-</tspan><tspan x="235" y="47.5" font-size="23.4" >CD25</tspan><tspan x="295.3" y="41.7" font-size="21" stroke="#111" stroke-width="0.4">+</tspan></text>
<text fill="#111"><tspan x="378.4" y="47.5" font-size="22" font-family="'DejaVu Serif', 'Liberation Serif', serif" textLength="17" lengthAdjust="spacingAndGlyphs">α</tspan><tspan x="393.1" y="54.7" font-size="20.5" >E</tspan><tspan x="406.2" y="39.5" font-size="21" stroke="#111" stroke-width="0.4">+</tspan></text>
<text x="22.6" y="102" font-size="23.2" text-anchor="middle" font-weight="normal" fill="#111" transform="rotate(-90 22.6 102)" >WT</text>
<text fill="#111" transform="translate(22.6 269.8) rotate(-90)"><tspan x="0" y="0" font-size="23.85">FucTVII</tspan><tspan x="85" y="-10" font-size="17.5" textLength="17" lengthAdjust="spacingAndGlyphs" stroke="#111" stroke-width="0.3">-/-</tspan></text>
<line x1="39" y1="278" x2="457" y2="278" stroke="#000" stroke-width="1.9" />
<polygon points="454.6,271.4 475.2,278 454.6,284.8" fill="#000"/>
<text x="256.8" y="309.6" font-size="24" text-anchor="middle" font-weight="normal" fill="#111" >P-selectin ligand</text>
</g>
<g id="panelB">
<text x="2" y="384.2" font-size="36.5" text-anchor="start" font-weight="bold" fill="#000" textLength="27.2" lengthAdjust="spacingAndGlyphs">B</text>
<rect x="101.4" y="382.6" width="410.4" height="235.6" fill="none" stroke="#000" stroke-width="1.6"/>
<line x1="97.4" y1="618.2" x2="101.4" y2="618.2" stroke="#000" stroke-width="1.3" />
<text x="93.6" y="622.85" font-size="20" text-anchor="end" font-weight="normal" fill="#111" >0</text>
<line x1="97.4" y1="563.44" x2="101.4" y2="563.44" stroke="#000" stroke-width="1.3" />
<text x="93.6" y="569.55" font-size="20" text-anchor="end" font-weight="normal" fill="#111" >0.4</text>
<line x1="97.4" y1="508.68" x2="101.4" y2="508.68" stroke="#000" stroke-width="1.3" />
<text x="93.6" y="513.95" font-size="20" text-anchor="end" font-weight="normal" fill="#111" >0.8</text>
<line x1="97.4" y1="453.92" x2="101.4" y2="453.92" stroke="#000" stroke-width="1.3" />
<text x="93.6" y="461.05" font-size="20" text-anchor="end" font-weight="normal" fill="#111" >1.2</text>
<line x1="97.4" y1="399.16" x2="101.4" y2="399.16" stroke="#000" stroke-width="1.3" />
<text x="93.6" y="406.75" font-size="20" text-anchor="end" font-weight="normal" fill="#111" >1.6</text>
<text x="24.4" y="508.1" font-size="24" text-anchor="middle" font-weight="normal" fill="#111" transform="rotate(-90 24.4 508.1)" >% of recovered</text>
<text x="51.9" y="507.6" font-size="24" text-anchor="middle" font-weight="normal" fill="#111" transform="rotate(-90 51.9 507.6)" >radioactivity</text>
<rect x="124.3" y="403.7" width="21.5" height="21.5" fill="#000" stroke="#000" stroke-width="0"/>
<text x="155" y="422.8" font-size="23.6" text-anchor="start" font-weight="normal" fill="#111" >WT</text>
<rect x="127.5" y="441.3" width="16.6" height="17.2" fill="#fff" stroke="#000" stroke-width="3.4"/>
<text fill="#111"><tspan x="155" y="457.6" font-size="23.8" >FucTVII</tspan><tspan x="239" y="453" font-size="18.5" textLength="19.8" lengthAdjust="spacingAndGlyphs" stroke="#111" stroke-width="0.3">-/-</tspan></text>
<line x1="307.9" y1="387.5" x2="307.9" y2="618.2" stroke="#000" stroke-width="1.7" stroke-dasharray="9.4 17.76"/>
<rect x="112" y="600" width="40" height="18.2" fill="#000" stroke="#000" stroke-width="0.8"/>
<rect x="152" y="602" width="39" height="16.2" fill="#fff" stroke="#000" stroke-width="1.6"/>
<rect x="210.3" y="574.6" width="41.2" height="43.6" fill="#000" stroke="#000" stroke-width="0.8"/>
<rect x="251.5" y="604.2" width="38.7" height="14" fill="#fff" stroke="#000" stroke-width="1.6"/>
<rect x="325.8" y="565" width="39.5" height="53.2" fill="#000" stroke="#000" stroke-width="0.8"/>
<rect x="365.3" y="588.2" width="38.5" height="30" fill="#fff" stroke="#000" stroke-width="1.6"/>
<rect x="423" y="472.2" width="42" height="146" fill="#000" stroke="#000" stroke-width="0.8"/>
<rect x="465" y="592.2" width="38.2" height="26" fill="#fff" stroke="#000" stroke-width="1.6"/>
<line x1="132" y1="597.2" x2="132" y2="600" stroke="#000" stroke-width="1.8" />
<line x1="126.5" y1="597.2" x2="137.5" y2="597.2" stroke="#000" stroke-width="1.8" />
<line x1="171.5" y1="598.5" x2="171.5" y2="606.5" stroke="#000" stroke-width="1.8" />
<line x1="166" y1="598.5" x2="177" y2="598.5" stroke="#000" stroke-width="1.8" />
<line x1="166" y1="606.5" x2="177" y2="606.5" stroke="#000" stroke-width="1.8" />
<line x1="230.9" y1="562" x2="230.9" y2="574.6" stroke="#000" stroke-width="1.8" />
<line x1="225.4" y1="562" x2="236.4" y2="562" stroke="#000" stroke-width="1.8" />
<line x1="270.85" y1="600.8" x2="270.85" y2="607.8" stroke="#000" stroke-width="1.8" />
<line x1="265.35" y1="600.8" x2="276.35" y2="600.8" stroke="#000" stroke-width="1.8" />
<line x1="265.35" y1="607.8" x2="276.35" y2="607.8" stroke="#000" stroke-width="1.8" />
<line x1="345.55" y1="540" x2="345.55" y2="565" stroke="#000" stroke-width="1.8" />
<line x1="340.05" y1="540" x2="351.05" y2="540" stroke="#000" stroke-width="1.8" />
<line x1="384.55" y1="576.8" x2="384.55" y2="599" stroke="#000" stroke-width="1.8" />
<line x1="379.05" y1="576.8" x2="390.05" y2="576.8" stroke="#000" stroke-width="1.8" />
<line x1="379.05" y1="599" x2="390.05" y2="599" stroke="#000" stroke-width="1.8" />
<line x1="444" y1="412" x2="444" y2="472.2" stroke="#000" stroke-width="1.8" />
<line x1="438.5" y1="412" x2="449.5" y2="412" stroke="#000" stroke-width="1.8" />
<line x1="484.1" y1="582.4" x2="484.1" y2="602.8" stroke="#000" stroke-width="1.8" />
<line x1="478.6" y1="582.4" x2="489.6" y2="582.4" stroke="#000" stroke-width="1.8" />
<line x1="478.6" y1="602.8" x2="489.6" y2="602.8" stroke="#000" stroke-width="1.8" />
<line x1="101.4" y1="618.2" x2="511.8" y2="618.2" stroke="#000" stroke-width="1.6" />
<line x1="233.3" y1="548.3" x2="271.6" y2="548.3" stroke="#aaa" stroke-width="1.2" />
<text x="252.5" y="559.6" font-size="32" text-anchor="middle" font-weight="normal" fill="#111" >**</text>
<line x1="343.6" y1="529.7" x2="383.8" y2="529.7" stroke="#aaa" stroke-width="1.2" />
<text x="363.5" y="541" font-size="32" text-anchor="middle" font-weight="normal" fill="#111" >*</text>
<line x1="441.7" y1="404.5" x2="481.9" y2="404.5" stroke="#aaa" stroke-width="1.2" />
<text x="462.4" y="415.8" font-size="32" text-anchor="middle" font-weight="normal" fill="#111" >**</text>
<text fill="#111"><tspan x="93" y="662.5" font-size="22.3" font-family="'DejaVu Serif', 'Liberation Serif', serif" textLength="17.2" lengthAdjust="spacingAndGlyphs">α</tspan><tspan x="107.9" y="669.8" font-size="20" >E</tspan><tspan x="123.2" y="655.5" font-size="23.7" stroke="#111" stroke-width="0.4">-</tspan><tspan x="129.9" y="662.5" font-size="23.7" >CD25</tspan><tspan x="191" y="657.2" font-size="21" stroke="#111" stroke-width="0.4">+</tspan></text>
<text fill="#111"><tspan x="235" y="662.5" font-size="22.3" font-family="'DejaVu Serif', 'Liberation Serif', serif" textLength="17.2" lengthAdjust="spacingAndGlyphs">α</tspan><tspan x="249.9" y="669.8" font-size="20" >E</tspan><tspan x="264" y="654.5" font-size="21" stroke="#111" stroke-width="0.4">+</tspan></text>
<text fill="#111"><tspan x="308" y="662.5" font-size="22.3" font-family="'DejaVu Serif', 'Liberation Serif', serif" textLength="17.2" lengthAdjust="spacingAndGlyphs">α</tspan><tspan x="322.9" y="669.8" font-size="20" >E</tspan><tspan x="338.2" y="655.5" font-size="23.7" stroke="#111" stroke-width="0.4">-</tspan><tspan x="344.9" y="662.5" font-size="23.7" >CD25</tspan><tspan x="406" y="657.2" font-size="21" stroke="#111" stroke-width="0.4">+</tspan></text>
<text fill="#111"><tspan x="448.2" y="662.5" font-size="22.3" font-family="'DejaVu Serif', 'Liberation Serif', serif" textLength="17.2" lengthAdjust="spacingAndGlyphs">α</tspan><tspan x="463.1" y="669.8" font-size="20" >E</tspan><tspan x="477.2" y="654.5" font-size="21" stroke="#111" stroke-width="0.4">+</tspan></text>
<text x="205.2" y="706.8" font-size="24.15" text-anchor="middle" font-weight="normal" fill="#111" >control foot</text>
<text x="412.7" y="707" font-size="24.3" text-anchor="middle" font-weight="normal" fill="#111" >OVA foot</text>
</g>
<g id="panelC">
<text x="0.4" y="768" font-size="37" text-anchor="start" font-weight="bold" fill="#000" textLength="27.8" lengthAdjust="spacingAndGlyphs">C</text>
<rect x="80.4" y="762.5" width="417.3" height="328.3" fill="none" stroke="#000" stroke-width="1.6"/>
<line x1="80.4" y1="1090.8" x2="80.4" y2="1094.3" stroke="#888" stroke-width="1.0" />
<text x="79.2" y="1122" font-size="21.4" text-anchor="middle" font-weight="normal" fill="#111" >0</text>
<line x1="149.9" y1="1090.8" x2="149.9" y2="1094.3" stroke="#888" stroke-width="1.0" />
<text x="148.7" y="1122" font-size="21.4" text-anchor="middle" font-weight="normal" fill="#111" >50</text>
<line x1="219.4" y1="1090.8" x2="219.4" y2="1094.3" stroke="#888" stroke-width="1.0" />
<text x="218.2" y="1122" font-size="21.4" text-anchor="middle" font-weight="normal" fill="#111" >100</text>
<line x1="288.9" y1="1090.8" x2="288.9" y2="1094.3" stroke="#888" stroke-width="1.0" />
<text x="287.7" y="1122" font-size="21.4" text-anchor="middle" font-weight="normal" fill="#111" >150</text>
<line x1="358.4" y1="1090.8" x2="358.4" y2="1094.3" stroke="#888" stroke-width="1.0" />
<text x="357.2" y="1122" font-size="21.4" text-anchor="middle" font-weight="normal" fill="#111" >200</text>
<line x1="427.9" y1="1090.8" x2="427.9" y2="1094.3" stroke="#888" stroke-width="1.0" />
<text x="426.7" y="1122" font-size="21.4" text-anchor="middle" font-weight="normal" fill="#111" >250</text>
<line x1="497.4" y1="1090.8" x2="497.4" y2="1094.3" stroke="#888" stroke-width="1.0" />
<text x="496.2" y="1122" font-size="21.4" text-anchor="middle" font-weight="normal" fill="#111" >300</text>
<line x1="76.9" y1="1091.5" x2="80.4" y2="1091.5" stroke="#888" stroke-width="1.0" />
<text x="68.4" y="1099.5" font-size="21.4" text-anchor="end" font-weight="normal" fill="#111" >1.4</text>
<line x1="76.9" y1="1041" x2="80.4" y2="1041" stroke="#888" stroke-width="1.0" />
<text x="68.4" y="1050" font-size="21.4" text-anchor="end" font-weight="normal" fill="#111" >1.6</text>
<line x1="76.9" y1="990.5" x2="80.4" y2="990.5" stroke="#888" stroke-width="1.0" />
<text x="68.4" y="999.5" font-size="21.4" text-anchor="end" font-weight="normal" fill="#111" >1.8</text>
<line x1="76.9" y1="940" x2="80.4" y2="940" stroke="#888" stroke-width="1.0" />
<text x="68.4" y="949" font-size="21.4" text-anchor="end" font-weight="normal" fill="#111" >2.0</text>
<line x1="76.9" y1="889.5" x2="80.4" y2="889.5" stroke="#888" stroke-width="1.0" />
<text x="68.4" y="898.5" font-size="21.4" text-anchor="end" font-weight="normal" fill="#111" >2.2</text>
<line x1="76.9" y1="839" x2="80.4" y2="839" stroke="#888" stroke-width="1.0" />
<text x="68.4" y="848" font-size="21.4" text-anchor="end" font-weight="normal" fill="#111" >2.4</text>
<line x1="76.9" y1="788.5" x2="80.4" y2="788.5" stroke="#888" stroke-width="1.0" />
<text x="68.4" y="797.5" font-size="21.4" text-anchor="end" font-weight="normal" fill="#111" >2.6</text>
<text x="24" y="1057.6" font-size="23.4" text-anchor="start" font-weight="normal" fill="#111" transform="rotate(-90 24 1057.6)" textLength="263.2" lengthAdjust="spacingAndGlyphs">footpad thickness (mm)</text>
<text x="246.3" y="1155.7" font-size="23.4" text-anchor="start" font-weight="normal" fill="#111" textLength="85.6" lengthAdjust="spacingAndGlyphs">time (h)</text>
<text x="134.5" y="794" font-size="23.5" text-anchor="start" font-weight="normal" fill="#111" >EXP. 1</text>
<line x1="80" y1="1048.8" x2="80" y2="1067" stroke="#000" stroke-width="3.0" />
<line x1="74.6" y1="1048.8" x2="87" y2="1048.8" stroke="#000" stroke-width="3.0" />
<line x1="108" y1="785.5" x2="108" y2="833" stroke="#000" stroke-width="3.0" />
<line x1="102.6" y1="785.5" x2="115" y2="785.5" stroke="#000" stroke-width="3.0" />
<line x1="143.8" y1="862" x2="143.8" y2="894" stroke="#000" stroke-width="3.0" />
<line x1="138.4" y1="862" x2="150.8" y2="862" stroke="#000" stroke-width="3.0" />
<line x1="168.8" y1="914.5" x2="168.8" y2="943" stroke="#000" stroke-width="3.0" />
<line x1="163.4" y1="914.5" x2="175.8" y2="914.5" stroke="#000" stroke-width="3.0" />
<line x1="237.5" y1="910.5" x2="237.5" y2="933" stroke="#000" stroke-width="3.0" />
<line x1="232.1" y1="910.5" x2="244.5" y2="910.5" stroke="#000" stroke-width="3.0" />
<line x1="265.5" y1="935.5" x2="265.5" y2="947.8" stroke="#000" stroke-width="3.0" />
<line x1="260.1" y1="935.5" x2="272.5" y2="935.5" stroke="#000" stroke-width="3.0" />
<line x1="295.5" y1="906.3" x2="295.5" y2="938.8" stroke="#000" stroke-width="3.0" />
<line x1="290.1" y1="906.3" x2="302.5" y2="906.3" stroke="#000" stroke-width="3.0" />
<line x1="357.5" y1="978" x2="357.5" y2="994" stroke="#000" stroke-width="3.0" />
<line x1="352.1" y1="978" x2="364.5" y2="978" stroke="#000" stroke-width="3.0" />
<line x1="481.5" y1="1013" x2="481.5" y2="1027" stroke="#000" stroke-width="3.0" />
<line x1="476.1" y1="1013" x2="488.5" y2="1013" stroke="#000" stroke-width="3.0" />
<line x1="108" y1="862.5" x2="108" y2="880" stroke="#000" stroke-width="3.0" />
<line x1="102.6" y1="862.5" x2="115" y2="862.5" stroke="#000" stroke-width="3.0" />
<line x1="143.8" y1="950" x2="143.8" y2="969.2" stroke="#000" stroke-width="3.0" />
<line x1="138.4" y1="950" x2="150.8" y2="950" stroke="#000" stroke-width="3.0" />
<line x1="168.6" y1="995" x2="168.6" y2="1009.6" stroke="#000" stroke-width="3.0" />
<line x1="163.2" y1="995" x2="175.6" y2="995" stroke="#000" stroke-width="3.0" />
<line x1="237.5" y1="1006" x2="237.5" y2="1014.4" stroke="#000" stroke-width="3.0" />
<line x1="232.1" y1="1006" x2="244.5" y2="1006" stroke="#000" stroke-width="3.0" />
<line x1="265.4" y1="1017.5" x2="265.4" y2="1033.4" stroke="#000" stroke-width="3.0" />
<line x1="260" y1="1017.5" x2="272.4" y2="1017.5" stroke="#000" stroke-width="3.0" />
<line x1="295.5" y1="1018" x2="295.5" y2="1030.2" stroke="#000" stroke-width="3.0" />
<line x1="290.1" y1="1018" x2="302.5" y2="1018" stroke="#000" stroke-width="3.0" />
<line x1="481.5" y1="1058" x2="481.5" y2="1068" stroke="#000" stroke-width="3.0" />
<line x1="476.1" y1="1058" x2="488.5" y2="1058" stroke="#000" stroke-width="3.0" />
<line x1="108" y1="810.5" x2="108" y2="842" stroke="#000" stroke-width="3.0" />
<line x1="102.6" y1="810.5" x2="115" y2="810.5" stroke="#000" stroke-width="3.0" />
<line x1="143.8" y1="869" x2="143.8" y2="914.5" stroke="#000" stroke-width="3.0" />
<line x1="138.4" y1="869" x2="150.8" y2="869" stroke="#000" stroke-width="3.0" />
<line x1="168.8" y1="921" x2="168.8" y2="955" stroke="#000" stroke-width="3.0" />
<line x1="163.4" y1="921" x2="175.8" y2="921" stroke="#000" stroke-width="3.0" />
<line x1="237.5" y1="921" x2="237.5" y2="949.5" stroke="#000" stroke-width="3.0" />
<line x1="232.1" y1="921" x2="244.5" y2="921" stroke="#000" stroke-width="3.0" />
<line x1="265.4" y1="962" x2="265.4" y2="983.5" stroke="#000" stroke-width="3.0" />
<line x1="260" y1="962" x2="272.4" y2="962" stroke="#000" stroke-width="3.0" />
<line x1="295.5" y1="960" x2="295.5" y2="987.8" stroke="#000" stroke-width="3.0" />
<line x1="290.1" y1="960" x2="302.5" y2="960" stroke="#000" stroke-width="3.0" />
<polyline points="80,1067 108,833 143.8,894 168.8,943 237.5,933 265.5,947.8 295.5,938.8 357.5,994 481.5,1027" fill="none" stroke="#000" stroke-width="3.2" stroke-linejoin="round" stroke-linecap="round"/>
<polyline points="80,1068.3 108,880 143.8,969.2 168.6,1009.6 237.5,1014.4 265.4,1033.4 295.5,1030.2 357.5,1062.8 481.5,1068" fill="none" stroke="#000" stroke-width="3.2" stroke-linejoin="round" stroke-linecap="round"/>
<polyline points="80,1061.5 108,842 143.8,914.5 168.8,955 237.5,949.5 265.4,983.5 295.5,987.8 357.5,1010.8 481.5,1034" fill="none" stroke="#000" stroke-width="3.2" stroke-linejoin="round" stroke-linecap="round"/>
<polygon points="80,1058.3 89.9,1078.3 70.1,1078.3" fill="#000" stroke="#444" stroke-width="2.6" stroke-linejoin="miter"/>
<polygon points="108,870 117.9,890 98.1,890" fill="#000" stroke="#444" stroke-width="2.6" stroke-linejoin="miter"/>
<polygon points="143.8,959.2 153.7,979.2 133.9,979.2" fill="#000" stroke="#444" stroke-width="2.6" stroke-linejoin="miter"/>
<polygon points="168.6,999.6 178.5,1019.6 158.7,1019.6" fill="#000" stroke="#444" stroke-width="2.6" stroke-linejoin="miter"/>
<polygon points="237.5,1004.4 247.4,1024.4 227.6,1024.4" fill="#000" stroke="#444" stroke-width="2.6" stroke-linejoin="miter"/>
<polygon points="265.4,1023.4 275.3,1043.4 255.5,1043.4" fill="#000" stroke="#444" stroke-width="2.6" stroke-linejoin="miter"/>
<polygon points="295.5,1020.2 305.4,1040.2 285.6,1040.2" fill="#000" stroke="#444" stroke-width="2.6" stroke-linejoin="miter"/>
<polygon points="357.5,1052.8 367.4,1072.8 347.6,1072.8" fill="#000" stroke="#444" stroke-width="2.6" stroke-linejoin="miter"/>
<polygon points="481.5,1058 491.4,1078 471.6,1078" fill="#000" stroke="#444" stroke-width="2.6" stroke-linejoin="miter"/>
<polygon points="80,1051.7 89.7,1071.3 70.3,1071.3" fill="#fff" stroke="#2e2e2e" stroke-width="3.0" stroke-linejoin="miter"/>
<polygon points="108,832.2 117.7,851.8 98.3,851.8" fill="#fff" stroke="#2e2e2e" stroke-width="3.0" stroke-linejoin="miter"/>
<polygon points="143.8,904.7 153.5,924.3 134.1,924.3" fill="#fff" stroke="#2e2e2e" stroke-width="3.0" stroke-linejoin="miter"/>
<polygon points="168.8,945.2 178.5,964.8 159.1,964.8" fill="#fff" stroke="#2e2e2e" stroke-width="3.0" stroke-linejoin="miter"/>
<polygon points="237.5,939.7 247.2,959.3 227.8,959.3" fill="#fff" stroke="#2e2e2e" stroke-width="3.0" stroke-linejoin="miter"/>
<polygon points="265.4,973.7 275.1,993.3 255.7,993.3" fill="#fff" stroke="#2e2e2e" stroke-width="3.0" stroke-linejoin="miter"/>
<polygon points="295.5,978 305.2,997.6 285.8,997.6" fill="#fff" stroke="#2e2e2e" stroke-width="3.0" stroke-linejoin="miter"/>
<polygon points="357.5,1001 367.2,1020.6 347.8,1020.6" fill="#fff" stroke="#2e2e2e" stroke-width="3.0" stroke-linejoin="miter"/>
<polygon points="481.5,1024.2 491.2,1043.8 471.8,1043.8" fill="#fff" stroke="#2e2e2e" stroke-width="3.0" stroke-linejoin="miter"/>
<polygon points="80,1056.1 90.9,1067 80,1077.9 69.1,1067" fill="#000" stroke="#444" stroke-width="2.3" stroke-linejoin="miter"/>
<polygon points="108,822.1 118.9,833 108,843.9 97.1,833" fill="#000" stroke="#444" stroke-width="2.3" stroke-linejoin="miter"/>
<polygon points="143.8,883.1 154.7,894 143.8,904.9 132.9,894" fill="#000" stroke="#444" stroke-width="2.3" stroke-linejoin="miter"/>
<polygon points="168.8,932.1 179.7,943 168.8,953.9 157.9,943" fill="#000" stroke="#444" stroke-width="2.3" stroke-linejoin="miter"/>
<polygon points="237.5,922.1 248.4,933 237.5,943.9 226.6,933" fill="#000" stroke="#444" stroke-width="2.3" stroke-linejoin="miter"/>
<polygon points="265.5,936.9 276.4,947.8 265.5,958.7 254.6,947.8" fill="#000" stroke="#444" stroke-width="2.3" stroke-linejoin="miter"/>
<polygon points="295.5,927.9 306.4,938.8 295.5,949.7 284.6,938.8" fill="#000" stroke="#444" stroke-width="2.3" stroke-linejoin="miter"/>
<polygon points="357.5,983.1 368.4,994 357.5,1004.9 346.6,994" fill="#000" stroke="#444" stroke-width="2.3" stroke-linejoin="miter"/>
<polygon points="481.5,1016.1 492.4,1027 481.5,1037.9 470.6,1027" fill="#000" stroke="#444" stroke-width="2.3" stroke-linejoin="miter"/>
<rect x="279" y="769.2" width="210.6" height="116.6" fill="#fff" stroke="#000" stroke-width="1.5"/>
<polygon points="296.7,777 310,790.3 296.7,803.6 283.4,790.3" fill="#000" stroke="#000" stroke-width="0.4" stroke-linejoin="miter"/>
<text x="325.6" y="798.5" font-size="24.6" text-anchor="start" font-weight="normal" fill="#111" >PBS</text>
<polygon points="296.4,819.3 306.8,840.1 286,840.1" fill="#000" stroke="#000" stroke-width="0.8" stroke-linejoin="miter"/>
<text fill="#111"><tspan x="324.8" y="839.4" font-size="22.6" font-family="'DejaVu Serif', 'Liberation Serif', serif" textLength="19" lengthAdjust="spacingAndGlyphs">α</tspan><tspan x="341.6" y="845.3" font-size="20.5" >E</tspan><tspan x="358.6" y="829.2" font-size="19.5" stroke="#111" stroke-width="0.45">+</tspan><tspan x="370" y="837.6" font-size="24.3" > WT</tspan></text>
<polygon points="296.8,860.7 305.3,878.3 288.3,878.3" fill="#fff" stroke="#000" stroke-width="3.0" stroke-linejoin="miter"/>
<text fill="#111"><tspan x="324.8" y="878.6" font-size="22.6" font-family="'DejaVu Serif', 'Liberation Serif', serif" textLength="19" lengthAdjust="spacingAndGlyphs">α</tspan><tspan x="341.6" y="884.5" font-size="20.5" >E</tspan><tspan x="358.6" y="868.4" font-size="19.5" stroke="#111" stroke-width="0.45">+</tspan><tspan x="370.2" y="876.4" font-size="24.4" > FucTVII</tspan><tspan x="464.8" y="868.6" font-size="18.5" textLength="23" lengthAdjust="spacingAndGlyphs" stroke="#111" stroke-width="0.3">-/-</tspan></text>
<rect x="84" y="1194.8" width="416.6" height="331.1" fill="none" stroke="#000" stroke-width="1.6"/>
<line x1="84.5" y1="1525.9" x2="84.5" y2="1529.4" stroke="#888" stroke-width="1.0" />
<text x="84.7" y="1554.2" font-size="21" text-anchor="middle" font-weight="normal" fill="#111" >0</text>
<line x1="154.05" y1="1525.9" x2="154.05" y2="1529.4" stroke="#888" stroke-width="1.0" />
<text x="152.85" y="1554.2" font-size="21" text-anchor="middle" font-weight="normal" fill="#111" >50</text>
<line x1="223.6" y1="1525.9" x2="223.6" y2="1529.4" stroke="#888" stroke-width="1.0" />
<text x="222.4" y="1554.2" font-size="21" text-anchor="middle" font-weight="normal" fill="#111" >100</text>
<line x1="293.15" y1="1525.9" x2="293.15" y2="1529.4" stroke="#888" stroke-width="1.0" />
<text x="291.95" y="1554.2" font-size="21" text-anchor="middle" font-weight="normal" fill="#111" >150</text>
<line x1="362.7" y1="1525.9" x2="362.7" y2="1529.4" stroke="#888" stroke-width="1.0" />
<text x="361.5" y="1554.2" font-size="21" text-anchor="middle" font-weight="normal" fill="#111" >200</text>
<line x1="432.25" y1="1525.9" x2="432.25" y2="1529.4" stroke="#888" stroke-width="1.0" />
<text x="431.05" y="1554.2" font-size="21" text-anchor="middle" font-weight="normal" fill="#111" >250</text>
<line x1="501.8" y1="1525.9" x2="501.8" y2="1529.4" stroke="#888" stroke-width="1.0" />
<text x="500.6" y="1554.2" font-size="21" text-anchor="middle" font-weight="normal" fill="#111" >300</text>
<line x1="80.5" y1="1525.9" x2="84" y2="1525.9" stroke="#888" stroke-width="1.0" />
<text x="71.4" y="1530.9" font-size="21" text-anchor="end" font-weight="normal" fill="#111" >1.3</text>
<line x1="80.5" y1="1475.84" x2="84" y2="1475.84" stroke="#888" stroke-width="1.0" />
<text x="71.4" y="1480.84" font-size="21" text-anchor="end" font-weight="normal" fill="#111" >1.5</text>
<line x1="80.5" y1="1425.78" x2="84" y2="1425.78" stroke="#888" stroke-width="1.0" />
<text x="71.4" y="1430.78" font-size="21" text-anchor="end" font-weight="normal" fill="#111" >1.7</text>
<line x1="80.5" y1="1375.72" x2="84" y2="1375.72" stroke="#888" stroke-width="1.0" />
<text x="71.4" y="1380.72" font-size="21" text-anchor="end" font-weight="normal" fill="#111" >1.9</text>
<line x1="80.5" y1="1325.66" x2="84" y2="1325.66" stroke="#888" stroke-width="1.0" />
<text x="71.4" y="1330.66" font-size="21" text-anchor="end" font-weight="normal" fill="#111" >2.1</text>
<line x1="80.5" y1="1275.6" x2="84" y2="1275.6" stroke="#888" stroke-width="1.0" />
<text x="71.4" y="1280.6" font-size="21" text-anchor="end" font-weight="normal" fill="#111" >2.3</text>
<line x1="80.5" y1="1225.54" x2="84" y2="1225.54" stroke="#888" stroke-width="1.0" />
<text x="71.4" y="1230.54" font-size="21" text-anchor="end" font-weight="normal" fill="#111" >2.5</text>
<text x="24" y="1489.1" font-size="23.4" text-anchor="start" font-weight="normal" fill="#111" transform="rotate(-90 24 1489.1)" textLength="263.2" lengthAdjust="spacingAndGlyphs">footpad thickness (mm)</text>
<text x="249.2" y="1589.8" font-size="23.4" text-anchor="start" font-weight="normal" fill="#111" textLength="85.6" lengthAdjust="spacingAndGlyphs">time (h)</text>
<text x="135.5" y="1226.7" font-size="24.6" text-anchor="start" font-weight="normal" fill="#111" >EXP. 2</text>
<line x1="113.5" y1="1205.7" x2="113.5" y2="1273.4" stroke="#000" stroke-width="2.8" />
<line x1="107.5" y1="1205.7" x2="119.5" y2="1205.7" stroke="#000" stroke-width="2.8" />
<line x1="147" y1="1299.5" x2="147" y2="1308.3" stroke="#000" stroke-width="2.8" />
<line x1="141" y1="1299.5" x2="153" y2="1299.5" stroke="#000" stroke-width="2.8" />
<line x1="278.65" y1="1305.4" x2="278.65" y2="1327.5" stroke="#000" stroke-width="2.8" />
<line x1="272.65" y1="1305.4" x2="284.65" y2="1305.4" stroke="#000" stroke-width="2.8" />
<line x1="311.6" y1="1315" x2="311.6" y2="1336.2" stroke="#000" stroke-width="2.8" />
<line x1="305.6" y1="1315" x2="317.6" y2="1315" stroke="#000" stroke-width="2.8" />
<line x1="147" y1="1393.5" x2="147" y2="1410.9" stroke="#000" stroke-width="2.8" />
<line x1="141" y1="1393.5" x2="153" y2="1393.5" stroke="#000" stroke-width="2.8" />
<line x1="180.2" y1="1411" x2="180.2" y2="1427.3" stroke="#000" stroke-width="2.8" />
<line x1="174.2" y1="1411" x2="186.2" y2="1411" stroke="#000" stroke-width="2.8" />
<line x1="213.1" y1="1380" x2="213.1" y2="1394.6" stroke="#000" stroke-width="2.8" />
<line x1="207.1" y1="1380" x2="219.1" y2="1380" stroke="#000" stroke-width="2.8" />
<line x1="278.65" y1="1414" x2="278.65" y2="1430.8" stroke="#000" stroke-width="2.8" />
<line x1="272.65" y1="1414" x2="284.65" y2="1414" stroke="#000" stroke-width="2.8" />
<line x1="311.6" y1="1386.2" x2="311.6" y2="1410.7" stroke="#000" stroke-width="2.8" />
<line x1="305.6" y1="1386.2" x2="317.6" y2="1386.2" stroke="#000" stroke-width="2.8" />
<line x1="407.7" y1="1428.5" x2="407.7" y2="1440.9" stroke="#000" stroke-width="2.8" />
<line x1="401.7" y1="1428.5" x2="413.7" y2="1428.5" stroke="#000" stroke-width="2.8" />
<line x1="468.8" y1="1437" x2="468.8" y2="1448.2" stroke="#000" stroke-width="2.8" />
<line x1="462.8" y1="1437" x2="474.8" y2="1437" stroke="#000" stroke-width="2.8" />
<line x1="84" y1="1472" x2="84" y2="1488.8" stroke="#000" stroke-width="2.8" />
<line x1="78" y1="1472" x2="90" y2="1472" stroke="#000" stroke-width="2.8" />
<line x1="146.5" y1="1303" x2="146.5" y2="1317.9" stroke="#000" stroke-width="2.8" />
<line x1="140.5" y1="1303" x2="152.5" y2="1303" stroke="#000" stroke-width="2.8" />
<line x1="180.2" y1="1344.3" x2="180.2" y2="1357" stroke="#000" stroke-width="2.8" />
<line x1="174.2" y1="1344.3" x2="186.2" y2="1344.3" stroke="#000" stroke-width="2.8" />
<line x1="213.1" y1="1347.6" x2="213.1" y2="1366.5" stroke="#000" stroke-width="2.8" />
<line x1="207.1" y1="1347.6" x2="219.1" y2="1347.6" stroke="#000" stroke-width="2.8" />
<line x1="278.65" y1="1339" x2="278.65" y2="1354.4" stroke="#000" stroke-width="2.8" />
<line x1="272.65" y1="1339" x2="284.65" y2="1339" stroke="#000" stroke-width="2.8" />
<line x1="311.6" y1="1324.6" x2="311.6" y2="1344.8" stroke="#000" stroke-width="2.8" />
<line x1="305.6" y1="1324.6" x2="317.6" y2="1324.6" stroke="#000" stroke-width="2.8" />
<line x1="407.7" y1="1337.3" x2="407.7" y2="1362.9" stroke="#000" stroke-width="2.8" />
<line x1="401.7" y1="1337.3" x2="413.7" y2="1337.3" stroke="#000" stroke-width="2.8" />
<line x1="468.8" y1="1407.7" x2="468.8" y2="1418.3" stroke="#000" stroke-width="2.8" />
<line x1="462.8" y1="1407.7" x2="474.8" y2="1407.7" stroke="#000" stroke-width="2.8" />
<polyline points="84,1482 113.5,1273.4 147,1308.3 180.2,1382 213.1,1367 278.65,1327.5 311.6,1336.2 407.7,1391.1 468.8,1433" fill="none" stroke="#000" stroke-width="3.3" stroke-linejoin="round" stroke-linecap="round"/>
<polyline points="84,1492 113.5,1329.3 147,1410.9 180.2,1427.3 213.1,1394.6 278.65,1430.8 311.6,1410.7 407.7,1440.9 468.8,1448.2" fill="none" stroke="#000" stroke-width="3.3" stroke-linejoin="round" stroke-linecap="round"/>
<polyline points="84,1488.8 113.5,1302.4 146.5,1317.9 180.2,1357 213.1,1366.5 278.65,1354.4 311.6,1344.8 407.7,1362.9 468.8,1418.3" fill="none" stroke="#000" stroke-width="3.3" stroke-linejoin="round" stroke-linecap="round"/>
<polygon points="84,1470.8 95.2,1482 84,1493.2 72.8,1482" fill="#000" stroke="#000" stroke-width="0.8" stroke-linejoin="miter"/>
<polygon points="113.5,1262.2 124.7,1273.4 113.5,1284.6 102.3,1273.4" fill="#000" stroke="#000" stroke-width="0.8" stroke-linejoin="miter"/>
<polygon points="147,1297.1 158.2,1308.3 147,1319.5 135.8,1308.3" fill="#000" stroke="#000" stroke-width="0.8" stroke-linejoin="miter"/>
<polygon points="180.2,1370.8 191.4,1382 180.2,1393.2 169,1382" fill="#000" stroke="#000" stroke-width="0.8" stroke-linejoin="miter"/>
<polygon points="213.1,1355.8 224.3,1367 213.1,1378.2 201.9,1367" fill="#000" stroke="#000" stroke-width="0.8" stroke-linejoin="miter"/>
<polygon points="278.65,1316.3 289.85,1327.5 278.65,1338.7 267.45,1327.5" fill="#000" stroke="#000" stroke-width="0.8" stroke-linejoin="miter"/>
<polygon points="311.6,1325 322.8,1336.2 311.6,1347.4 300.4,1336.2" fill="#000" stroke="#000" stroke-width="0.8" stroke-linejoin="miter"/>
<polygon points="407.7,1379.9 418.9,1391.1 407.7,1402.3 396.5,1391.1" fill="#000" stroke="#000" stroke-width="0.8" stroke-linejoin="miter"/>
<polygon points="468.8,1421.8 480,1433 468.8,1444.2 457.6,1433" fill="#000" stroke="#000" stroke-width="0.8" stroke-linejoin="miter"/>
<polygon points="84,1480 95,1504 73,1504" fill="#000" stroke="#000" stroke-width="1.6" stroke-linejoin="miter"/>
<polygon points="113.5,1317.3 124.5,1341.3 102.5,1341.3" fill="#000" stroke="#000" stroke-width="1.6" stroke-linejoin="miter"/>
<polygon points="147,1398.9 158,1422.9 136,1422.9" fill="#000" stroke="#000" stroke-width="1.6" stroke-linejoin="miter"/>
<polygon points="180.2,1415.3 191.2,1439.3 169.2,1439.3" fill="#000" stroke="#000" stroke-width="1.6" stroke-linejoin="miter"/>
<polygon points="213.1,1382.6 224.1,1406.6 202.1,1406.6" fill="#000" stroke="#000" stroke-width="1.6" stroke-linejoin="miter"/>
<polygon points="278.65,1418.8 289.65,1442.8 267.65,1442.8" fill="#000" stroke="#000" stroke-width="1.6" stroke-linejoin="miter"/>
<polygon points="311.6,1398.7 322.6,1422.7 300.6,1422.7" fill="#000" stroke="#000" stroke-width="1.6" stroke-linejoin="miter"/>
<polygon points="407.7,1428.9 418.7,1452.9 396.7,1452.9" fill="#000" stroke="#000" stroke-width="1.6" stroke-linejoin="miter"/>
<polygon points="468.8,1436.2 479.8,1460.2 457.8,1460.2" fill="#000" stroke="#000" stroke-width="1.6" stroke-linejoin="miter"/>
<polygon points="84,1477.8 93.9,1499.8 74.1,1499.8" fill="#fff" stroke="#000" stroke-width="3.0" stroke-linejoin="miter"/>
<polygon points="113.5,1291.4 123.4,1313.4 103.6,1313.4" fill="#fff" stroke="#000" stroke-width="3.0" stroke-linejoin="miter"/>
<polygon points="146.5,1306.9 156.4,1328.9 136.6,1328.9" fill="#fff" stroke="#000" stroke-width="3.0" stroke-linejoin="miter"/>
<polygon points="180.2,1346 190.1,1368 170.3,1368" fill="#fff" stroke="#000" stroke-width="3.0" stroke-linejoin="miter"/>
<polygon points="213.1,1355.5 223,1377.5 203.2,1377.5" fill="#fff" stroke="#000" stroke-width="3.0" stroke-linejoin="miter"/>
<polygon points="278.65,1343.4 288.55,1365.4 268.75,1365.4" fill="#fff" stroke="#000" stroke-width="3.0" stroke-linejoin="miter"/>
<polygon points="311.6,1333.8 321.5,1355.8 301.7,1355.8" fill="#fff" stroke="#000" stroke-width="3.0" stroke-linejoin="miter"/>
<polygon points="407.7,1351.9 417.6,1373.9 397.8,1373.9" fill="#fff" stroke="#000" stroke-width="3.0" stroke-linejoin="miter"/>
<polygon points="468.8,1407.3 478.7,1429.3 458.9,1429.3" fill="#fff" stroke="#000" stroke-width="3.0" stroke-linejoin="miter"/>
</g>
</svg>
</body>
</html>
